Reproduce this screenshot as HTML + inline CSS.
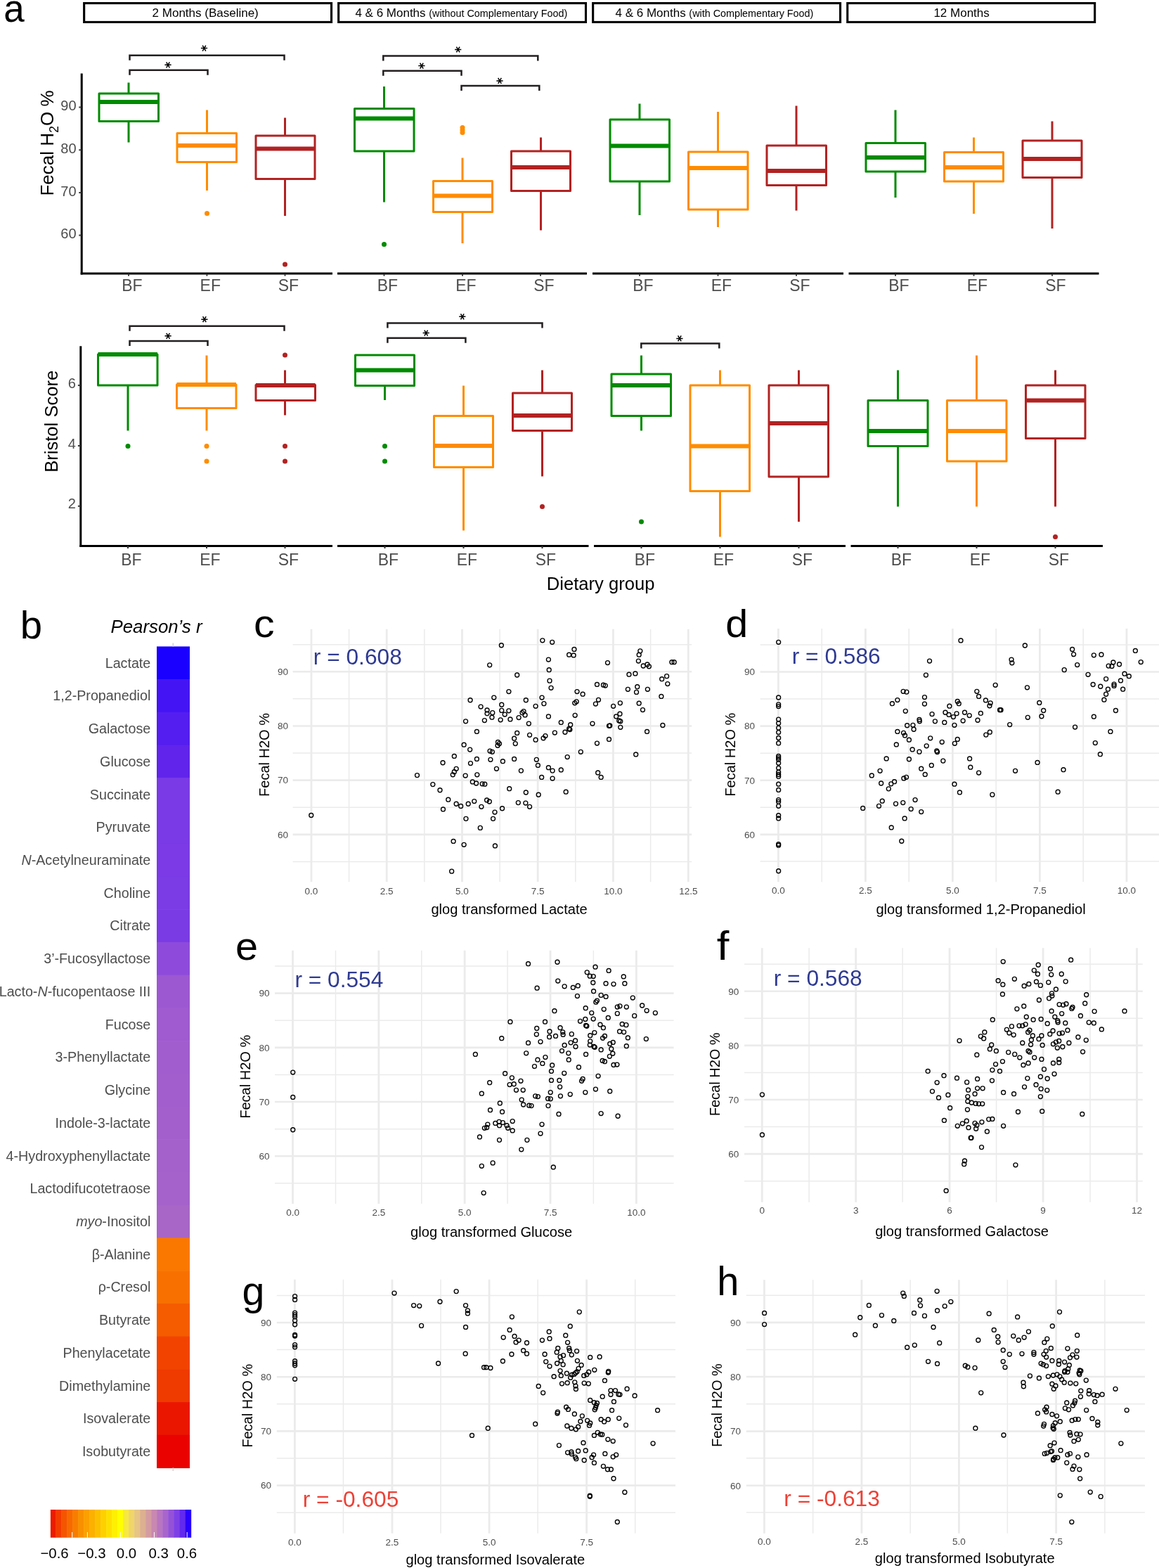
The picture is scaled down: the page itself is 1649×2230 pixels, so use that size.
<!DOCTYPE html>
<html><head><meta charset="utf-8"><title>Figure</title>
<style>
html,body{margin:0;padding:0;background:#fff;}
svg{display:block;}
text{font-family:"Liberation Sans", Arial, Helvetica, sans-serif;}
</style></head>
<body>
<svg width="1649" height="2230" viewBox="0 0 1649 2230">
<rect width="1649" height="2230" fill="#fff"/>
<rect x="119.65" y="4.55" width="351.9" height="26.9" fill="#fff" stroke="#000" stroke-width="3.1"/>
<text x="292.2" y="24.1" font-size="17" fill="#000" text-anchor="middle">2 Months (Baseline)</text>
<rect x="481.65" y="4.55" width="351.85" height="26.9" fill="#fff" stroke="#000" stroke-width="3.1"/>
<text x="656.3" y="24.1" font-size="17" text-anchor="middle">4 &amp; 6 Months <tspan font-size="14.35">(without Complementary Food)</tspan></text>
<rect x="843.65" y="4.55" width="351.9" height="26.9" fill="#fff" stroke="#000" stroke-width="3.1"/>
<text x="1016.4" y="24.1" font-size="17" text-anchor="middle">4 &amp; 6 Months <tspan font-size="14.35">(with Complementary Food)</tspan></text>
<rect x="1205.75" y="4.55" width="351.9" height="26.9" fill="#fff" stroke="#000" stroke-width="3.1"/>
<text x="1368.1" y="24.1" font-size="17" fill="#000" text-anchor="middle">12 Months</text>
<line x1="116.2" y1="104.5" x2="116.2" y2="390.4" stroke="#000" stroke-width="3"/>
<line x1="112.3" y1="152.5" x2="116.2" y2="152.5" stroke="#333" stroke-width="2"/>
<text x="108.6" y="157.1" font-size="20" fill="#4d4d4d" text-anchor="end">90</text>
<line x1="112.3" y1="213.3" x2="116.2" y2="213.3" stroke="#333" stroke-width="2"/>
<text x="108.6" y="217.9" font-size="20" fill="#4d4d4d" text-anchor="end">80</text>
<line x1="112.3" y1="274" x2="116.2" y2="274" stroke="#333" stroke-width="2"/>
<text x="108.6" y="278.6" font-size="20" fill="#4d4d4d" text-anchor="end">70</text>
<line x1="112.3" y1="334.6" x2="116.2" y2="334.6" stroke="#333" stroke-width="2"/>
<text x="108.6" y="339.2" font-size="20" fill="#4d4d4d" text-anchor="end">60</text>
<text transform="translate(76.3 203.5) rotate(-90)" font-size="26" text-anchor="middle">Fecal H<tspan font-size="18" dy="7">2</tspan><tspan dy="-7">O %</tspan></text>
<line x1="114.7" y1="389" x2="473" y2="389" stroke="#000" stroke-width="2.9"/>
<line x1="183" y1="389" x2="183" y2="392.5" stroke="#333" stroke-width="2"/>
<text x="187.9" y="414" font-size="23" fill="#4d4d4d" text-anchor="middle">BF</text>
<line x1="294.4" y1="389" x2="294.4" y2="392.5" stroke="#333" stroke-width="2"/>
<text x="299.3" y="414" font-size="23" fill="#4d4d4d" text-anchor="middle">EF</text>
<line x1="405.5" y1="389" x2="405.5" y2="392.5" stroke="#333" stroke-width="2"/>
<text x="410.4" y="414" font-size="23" fill="#4d4d4d" text-anchor="middle">SF</text>
<line x1="480" y1="389" x2="835" y2="389" stroke="#000" stroke-width="2.9"/>
<line x1="546.5" y1="389" x2="546.5" y2="392.5" stroke="#333" stroke-width="2"/>
<text x="551.4" y="414" font-size="23" fill="#4d4d4d" text-anchor="middle">BF</text>
<line x1="658" y1="389" x2="658" y2="392.5" stroke="#333" stroke-width="2"/>
<text x="662.9" y="414" font-size="23" fill="#4d4d4d" text-anchor="middle">EF</text>
<line x1="769" y1="389" x2="769" y2="392.5" stroke="#333" stroke-width="2"/>
<text x="773.9" y="414" font-size="23" fill="#4d4d4d" text-anchor="middle">SF</text>
<line x1="843" y1="389" x2="1200" y2="389" stroke="#000" stroke-width="2.9"/>
<line x1="910" y1="389" x2="910" y2="392.5" stroke="#333" stroke-width="2"/>
<text x="914.9" y="414" font-size="23" fill="#4d4d4d" text-anchor="middle">BF</text>
<line x1="1021.5" y1="389" x2="1021.5" y2="392.5" stroke="#333" stroke-width="2"/>
<text x="1026.4" y="414" font-size="23" fill="#4d4d4d" text-anchor="middle">EF</text>
<line x1="1133" y1="389" x2="1133" y2="392.5" stroke="#333" stroke-width="2"/>
<text x="1137.9" y="414" font-size="23" fill="#4d4d4d" text-anchor="middle">SF</text>
<line x1="1207.5" y1="389" x2="1563.5" y2="389" stroke="#000" stroke-width="2.9"/>
<line x1="1274" y1="389" x2="1274" y2="392.5" stroke="#333" stroke-width="2"/>
<text x="1278.9" y="414" font-size="23" fill="#4d4d4d" text-anchor="middle">BF</text>
<line x1="1385.5" y1="389" x2="1385.5" y2="392.5" stroke="#333" stroke-width="2"/>
<text x="1390.4" y="414" font-size="23" fill="#4d4d4d" text-anchor="middle">EF</text>
<line x1="1497" y1="389" x2="1497" y2="392.5" stroke="#333" stroke-width="2"/>
<text x="1501.9" y="414" font-size="23" fill="#4d4d4d" text-anchor="middle">SF</text>
<line x1="183" y1="117.5" x2="183" y2="133" stroke="#008b00" stroke-width="3"/>
<line x1="183" y1="172.5" x2="183" y2="202.5" stroke="#008b00" stroke-width="3"/>
<rect x="141" y="133" width="84.5" height="39.5" fill="#fff" stroke="#008b00" stroke-width="3" stroke-linejoin="round"/>
<line x1="141" y1="145" x2="225.5" y2="145" stroke="#008b00" stroke-width="6"/>
<line x1="294.5" y1="156.5" x2="294.5" y2="189.5" stroke="#ff8c00" stroke-width="3"/>
<line x1="294.5" y1="230.5" x2="294.5" y2="271" stroke="#ff8c00" stroke-width="3"/>
<rect x="252" y="189.5" width="84.5" height="41" fill="#fff" stroke="#ff8c00" stroke-width="3" stroke-linejoin="round"/>
<line x1="252" y1="207" x2="336.5" y2="207" stroke="#ff8c00" stroke-width="6"/>
<circle cx="294.5" cy="303.5" r="3.5" fill="#ff8c00"/>
<line x1="405.5" y1="167.5" x2="405.5" y2="193" stroke="#b22222" stroke-width="3"/>
<line x1="405.5" y1="254.5" x2="405.5" y2="307" stroke="#b22222" stroke-width="3"/>
<rect x="364" y="193" width="84" height="61.5" fill="#fff" stroke="#b22222" stroke-width="3" stroke-linejoin="round"/>
<line x1="364" y1="211.5" x2="448" y2="211.5" stroke="#b22222" stroke-width="6"/>
<circle cx="405.5" cy="376" r="3.5" fill="#b22222"/>
<line x1="546.5" y1="123" x2="546.5" y2="154.5" stroke="#008b00" stroke-width="3"/>
<line x1="546.5" y1="215" x2="546.5" y2="287.5" stroke="#008b00" stroke-width="3"/>
<rect x="504.5" y="154.5" width="84.5" height="60.5" fill="#fff" stroke="#008b00" stroke-width="3" stroke-linejoin="round"/>
<line x1="504.5" y1="168.5" x2="589" y2="168.5" stroke="#008b00" stroke-width="6"/>
<circle cx="546.5" cy="347.5" r="3.5" fill="#008b00"/>
<line x1="658" y1="224.5" x2="658" y2="257.5" stroke="#ff8c00" stroke-width="3"/>
<line x1="658" y1="301.5" x2="658" y2="346" stroke="#ff8c00" stroke-width="3"/>
<rect x="616.5" y="257.5" width="84" height="44" fill="#fff" stroke="#ff8c00" stroke-width="3" stroke-linejoin="round"/>
<line x1="616.5" y1="278.5" x2="700.5" y2="278.5" stroke="#ff8c00" stroke-width="6"/>
<circle cx="658" cy="181.5" r="3.5" fill="#ff8c00"/>
<circle cx="658" cy="185" r="3.5" fill="#ff8c00"/>
<circle cx="658" cy="188.5" r="3.5" fill="#ff8c00"/>
<line x1="769.5" y1="195.5" x2="769.5" y2="215" stroke="#b22222" stroke-width="3"/>
<line x1="769.5" y1="271.5" x2="769.5" y2="327.5" stroke="#b22222" stroke-width="3"/>
<rect x="727.5" y="215" width="84" height="56.5" fill="#fff" stroke="#b22222" stroke-width="3" stroke-linejoin="round"/>
<line x1="727.5" y1="238" x2="811.5" y2="238" stroke="#b22222" stroke-width="6"/>
<line x1="910" y1="147.5" x2="910" y2="170" stroke="#008b00" stroke-width="3"/>
<line x1="910" y1="258" x2="910" y2="306" stroke="#008b00" stroke-width="3"/>
<rect x="868" y="170" width="84.5" height="88" fill="#fff" stroke="#008b00" stroke-width="3" stroke-linejoin="round"/>
<line x1="868" y1="207.5" x2="952.5" y2="207.5" stroke="#008b00" stroke-width="6"/>
<line x1="1021.5" y1="159" x2="1021.5" y2="216" stroke="#ff8c00" stroke-width="3"/>
<line x1="1021.5" y1="298" x2="1021.5" y2="323" stroke="#ff8c00" stroke-width="3"/>
<rect x="979.5" y="216" width="84.5" height="82" fill="#fff" stroke="#ff8c00" stroke-width="3" stroke-linejoin="round"/>
<line x1="979.5" y1="239" x2="1064" y2="239" stroke="#ff8c00" stroke-width="6"/>
<line x1="1133" y1="150.5" x2="1133" y2="207" stroke="#b22222" stroke-width="3"/>
<line x1="1133" y1="263.5" x2="1133" y2="299.5" stroke="#b22222" stroke-width="3"/>
<rect x="1091" y="207" width="84.5" height="56.5" fill="#fff" stroke="#b22222" stroke-width="3" stroke-linejoin="round"/>
<line x1="1091" y1="243" x2="1175.5" y2="243" stroke="#b22222" stroke-width="6"/>
<line x1="1274" y1="156.5" x2="1274" y2="203.5" stroke="#008b00" stroke-width="3"/>
<line x1="1274" y1="244" x2="1274" y2="281" stroke="#008b00" stroke-width="3"/>
<rect x="1232" y="203.5" width="84.5" height="40.5" fill="#fff" stroke="#008b00" stroke-width="3" stroke-linejoin="round"/>
<line x1="1232" y1="224" x2="1316.5" y2="224" stroke="#008b00" stroke-width="6"/>
<line x1="1385.5" y1="195.5" x2="1385.5" y2="216.5" stroke="#ff8c00" stroke-width="3"/>
<line x1="1385.5" y1="258" x2="1385.5" y2="304" stroke="#ff8c00" stroke-width="3"/>
<rect x="1343.5" y="216.5" width="84" height="41.5" fill="#fff" stroke="#ff8c00" stroke-width="3" stroke-linejoin="round"/>
<line x1="1343.5" y1="238" x2="1427.5" y2="238" stroke="#ff8c00" stroke-width="6"/>
<line x1="1497" y1="172.5" x2="1497" y2="200" stroke="#b22222" stroke-width="3"/>
<line x1="1497" y1="252.5" x2="1497" y2="325" stroke="#b22222" stroke-width="3"/>
<rect x="1455" y="200" width="84" height="52.5" fill="#fff" stroke="#b22222" stroke-width="3" stroke-linejoin="round"/>
<line x1="1455" y1="226" x2="1539" y2="226" stroke="#b22222" stroke-width="6"/>
<path d="M184.5 85.8V78.8H404.5V85.8" fill="none" stroke="#231f20" stroke-width="2.5"/>
<path d="M285.9 68.6L295.1 68.6M288.2 64.62L292.8 72.58M292.8 64.62L288.2 72.58" stroke="#000" stroke-width="1.5" fill="none"/>
<path d="M184.5 106.7V99.7H295.5V106.7" fill="none" stroke="#231f20" stroke-width="2.5"/>
<path d="M234.4 92.3L243.6 92.3M236.7 88.32L241.3 96.28M241.3 88.32L236.7 96.28" stroke="#000" stroke-width="1.5" fill="none"/>
<path d="M545.3 86.4V79.4H765.3V86.4" fill="none" stroke="#231f20" stroke-width="2.5"/>
<path d="M647.1 70.5L656.3 70.5M649.4 66.52L654 74.48M654 66.52L649.4 74.48" stroke="#000" stroke-width="1.5" fill="none"/>
<path d="M545.3 107.7V100.7H656.5V107.7" fill="none" stroke="#231f20" stroke-width="2.5"/>
<path d="M595.3 93.6L604.5 93.6M597.6 89.62L602.2 97.58M602.2 89.62L597.6 97.58" stroke="#000" stroke-width="1.5" fill="none"/>
<path d="M656.5 129V122H767.3V129" fill="none" stroke="#231f20" stroke-width="2.5"/>
<path d="M706.4 114.9L715.6 114.9M708.7 110.92L713.3 118.88M713.3 110.92L708.7 118.88" stroke="#000" stroke-width="1.5" fill="none"/>
<line x1="114.8" y1="492.2" x2="114.8" y2="777.9" stroke="#000" stroke-width="3"/>
<line x1="110.9" y1="548.1" x2="114.8" y2="548.1" stroke="#333" stroke-width="2"/>
<text x="107.8" y="551.7" font-size="20" fill="#4d4d4d" text-anchor="end">6</text>
<line x1="110.9" y1="634" x2="114.8" y2="634" stroke="#333" stroke-width="2"/>
<text x="107.8" y="637.6" font-size="20" fill="#4d4d4d" text-anchor="end">4</text>
<line x1="110.9" y1="719.8" x2="114.8" y2="719.8" stroke="#333" stroke-width="2"/>
<text x="107.8" y="723.4" font-size="20" fill="#4d4d4d" text-anchor="end">2</text>
<text x="0" y="0" font-size="25.6" fill="#000" text-anchor="middle" transform="translate(81.5 599.3) rotate(-90)">Bristol Score</text>
<line x1="113.3" y1="776.5" x2="473" y2="776.5" stroke="#000" stroke-width="2.9"/>
<line x1="182" y1="776.5" x2="182" y2="780" stroke="#333" stroke-width="2"/>
<text x="186.9" y="804" font-size="23" fill="#4d4d4d" text-anchor="middle">BF</text>
<line x1="294" y1="776.5" x2="294" y2="780" stroke="#333" stroke-width="2"/>
<text x="298.9" y="804" font-size="23" fill="#4d4d4d" text-anchor="middle">EF</text>
<line x1="405.5" y1="776.5" x2="405.5" y2="780" stroke="#333" stroke-width="2"/>
<text x="410.4" y="804" font-size="23" fill="#4d4d4d" text-anchor="middle">SF</text>
<line x1="480" y1="776.5" x2="837.5" y2="776.5" stroke="#000" stroke-width="2.9"/>
<line x1="547.5" y1="776.5" x2="547.5" y2="780" stroke="#333" stroke-width="2"/>
<text x="552.4" y="804" font-size="23" fill="#4d4d4d" text-anchor="middle">BF</text>
<line x1="659.5" y1="776.5" x2="659.5" y2="780" stroke="#333" stroke-width="2"/>
<text x="664.4" y="804" font-size="23" fill="#4d4d4d" text-anchor="middle">EF</text>
<line x1="771.5" y1="776.5" x2="771.5" y2="780" stroke="#333" stroke-width="2"/>
<text x="776.4" y="804" font-size="23" fill="#4d4d4d" text-anchor="middle">SF</text>
<line x1="845" y1="776.5" x2="1203" y2="776.5" stroke="#000" stroke-width="2.9"/>
<line x1="912.5" y1="776.5" x2="912.5" y2="780" stroke="#333" stroke-width="2"/>
<text x="917.4" y="804" font-size="23" fill="#4d4d4d" text-anchor="middle">BF</text>
<line x1="1024.5" y1="776.5" x2="1024.5" y2="780" stroke="#333" stroke-width="2"/>
<text x="1029.4" y="804" font-size="23" fill="#4d4d4d" text-anchor="middle">EF</text>
<line x1="1136.5" y1="776.5" x2="1136.5" y2="780" stroke="#333" stroke-width="2"/>
<text x="1141.4" y="804" font-size="23" fill="#4d4d4d" text-anchor="middle">SF</text>
<line x1="1210.5" y1="776.5" x2="1569" y2="776.5" stroke="#000" stroke-width="2.9"/>
<line x1="1277.5" y1="776.5" x2="1277.5" y2="780" stroke="#333" stroke-width="2"/>
<text x="1282.4" y="804" font-size="23" fill="#4d4d4d" text-anchor="middle">BF</text>
<line x1="1389.5" y1="776.5" x2="1389.5" y2="780" stroke="#333" stroke-width="2"/>
<text x="1394.4" y="804" font-size="23" fill="#4d4d4d" text-anchor="middle">EF</text>
<line x1="1501.5" y1="776.5" x2="1501.5" y2="780" stroke="#333" stroke-width="2"/>
<text x="1506.4" y="804" font-size="23" fill="#4d4d4d" text-anchor="middle">SF</text>
<text x="854.6" y="839.1" font-size="25.6" fill="#000" text-anchor="middle">Dietary group</text>
<line x1="182" y1="504" x2="182" y2="504" stroke="#008b00" stroke-width="3"/>
<line x1="182" y1="548" x2="182" y2="612.5" stroke="#008b00" stroke-width="3"/>
<rect x="139.5" y="504" width="84.5" height="44" fill="#fff" stroke="#008b00" stroke-width="3" stroke-linejoin="round"/>
<line x1="139.5" y1="504" x2="224" y2="504" stroke="#008b00" stroke-width="6"/>
<circle cx="182" cy="634.5" r="3.5" fill="#008b00"/>
<line x1="294" y1="505.5" x2="294" y2="547" stroke="#ff8c00" stroke-width="3"/>
<line x1="294" y1="580.5" x2="294" y2="612.5" stroke="#ff8c00" stroke-width="3"/>
<rect x="251.5" y="547" width="84.5" height="33.5" fill="#fff" stroke="#ff8c00" stroke-width="3" stroke-linejoin="round"/>
<line x1="251.5" y1="547" x2="336" y2="547" stroke="#ff8c00" stroke-width="6"/>
<circle cx="294" cy="634.5" r="3.5" fill="#ff8c00"/>
<circle cx="294" cy="656" r="3.5" fill="#ff8c00"/>
<line x1="405.5" y1="526.5" x2="405.5" y2="547.5" stroke="#b22222" stroke-width="3"/>
<line x1="405.5" y1="569.5" x2="405.5" y2="590.5" stroke="#b22222" stroke-width="3"/>
<rect x="364" y="547.5" width="84.5" height="22" fill="#fff" stroke="#b22222" stroke-width="3" stroke-linejoin="round"/>
<line x1="364" y1="548" x2="448.5" y2="548" stroke="#b22222" stroke-width="6"/>
<circle cx="405.5" cy="505" r="3.5" fill="#b22222"/>
<circle cx="405.5" cy="634.5" r="3.5" fill="#b22222"/>
<circle cx="405.5" cy="656" r="3.5" fill="#b22222"/>
<line x1="547.5" y1="505" x2="547.5" y2="505" stroke="#008b00" stroke-width="3"/>
<line x1="547.5" y1="548.5" x2="547.5" y2="569" stroke="#008b00" stroke-width="3"/>
<rect x="505.5" y="505" width="84" height="43.5" fill="#fff" stroke="#008b00" stroke-width="3" stroke-linejoin="round"/>
<line x1="505.5" y1="526.5" x2="589.5" y2="526.5" stroke="#008b00" stroke-width="6"/>
<circle cx="547.5" cy="634.5" r="3.5" fill="#008b00"/>
<circle cx="547.5" cy="656" r="3.5" fill="#008b00"/>
<line x1="659.5" y1="548.5" x2="659.5" y2="591.5" stroke="#ff8c00" stroke-width="3"/>
<line x1="659.5" y1="664.5" x2="659.5" y2="754.5" stroke="#ff8c00" stroke-width="3"/>
<rect x="617.5" y="591.5" width="84" height="73" fill="#fff" stroke="#ff8c00" stroke-width="3" stroke-linejoin="round"/>
<line x1="617.5" y1="634" x2="701.5" y2="634" stroke="#ff8c00" stroke-width="6"/>
<line x1="771.5" y1="526.5" x2="771.5" y2="559" stroke="#b22222" stroke-width="3"/>
<line x1="771.5" y1="612.5" x2="771.5" y2="677.5" stroke="#b22222" stroke-width="3"/>
<rect x="729.5" y="559" width="84" height="53.5" fill="#fff" stroke="#b22222" stroke-width="3" stroke-linejoin="round"/>
<line x1="729.5" y1="591" x2="813.5" y2="591" stroke="#b22222" stroke-width="6"/>
<circle cx="771.5" cy="720.5" r="3.5" fill="#b22222"/>
<line x1="912.5" y1="505.5" x2="912.5" y2="532" stroke="#008b00" stroke-width="3"/>
<line x1="912.5" y1="591.5" x2="912.5" y2="612.5" stroke="#008b00" stroke-width="3"/>
<rect x="870" y="532" width="84.5" height="59.5" fill="#fff" stroke="#008b00" stroke-width="3" stroke-linejoin="round"/>
<line x1="870" y1="548" x2="954.5" y2="548" stroke="#008b00" stroke-width="6"/>
<circle cx="912.5" cy="742" r="3.5" fill="#008b00"/>
<line x1="1024.5" y1="526.5" x2="1024.5" y2="548" stroke="#ff8c00" stroke-width="3"/>
<line x1="1024.5" y1="698.5" x2="1024.5" y2="763.5" stroke="#ff8c00" stroke-width="3"/>
<rect x="982" y="548" width="84.5" height="150.5" fill="#fff" stroke="#ff8c00" stroke-width="3" stroke-linejoin="round"/>
<line x1="982" y1="634.5" x2="1066.5" y2="634.5" stroke="#ff8c00" stroke-width="6"/>
<line x1="1136.5" y1="526.5" x2="1136.5" y2="548" stroke="#b22222" stroke-width="3"/>
<line x1="1136.5" y1="678" x2="1136.5" y2="742" stroke="#b22222" stroke-width="3"/>
<rect x="1094" y="548" width="84.5" height="130" fill="#fff" stroke="#b22222" stroke-width="3" stroke-linejoin="round"/>
<line x1="1094" y1="602" x2="1178.5" y2="602" stroke="#b22222" stroke-width="6"/>
<line x1="1277.5" y1="526.5" x2="1277.5" y2="569.5" stroke="#008b00" stroke-width="3"/>
<line x1="1277.5" y1="634.5" x2="1277.5" y2="720.5" stroke="#008b00" stroke-width="3"/>
<rect x="1235" y="569.5" width="85" height="65" fill="#fff" stroke="#008b00" stroke-width="3" stroke-linejoin="round"/>
<line x1="1235" y1="613" x2="1320" y2="613" stroke="#008b00" stroke-width="6"/>
<line x1="1389.5" y1="505.5" x2="1389.5" y2="569.5" stroke="#ff8c00" stroke-width="3"/>
<line x1="1389.5" y1="656" x2="1389.5" y2="720.5" stroke="#ff8c00" stroke-width="3"/>
<rect x="1347.5" y="569.5" width="84.5" height="86.5" fill="#fff" stroke="#ff8c00" stroke-width="3" stroke-linejoin="round"/>
<line x1="1347.5" y1="613" x2="1432" y2="613" stroke="#ff8c00" stroke-width="6"/>
<line x1="1501.5" y1="526.5" x2="1501.5" y2="548" stroke="#b22222" stroke-width="3"/>
<line x1="1501.5" y1="623.5" x2="1501.5" y2="720.5" stroke="#b22222" stroke-width="3"/>
<rect x="1459.5" y="548" width="84.5" height="75.5" fill="#fff" stroke="#b22222" stroke-width="3" stroke-linejoin="round"/>
<line x1="1459.5" y1="569.5" x2="1544" y2="569.5" stroke="#b22222" stroke-width="6"/>
<circle cx="1501.5" cy="763.5" r="3.5" fill="#b22222"/>
<path d="M184.5 470.7V463.7H404.5V470.7" fill="none" stroke="#231f20" stroke-width="2.5"/>
<path d="M286.3 454.2L295.5 454.2M288.6 450.22L293.2 458.18M293.2 450.22L288.6 458.18" stroke="#000" stroke-width="1.5" fill="none"/>
<path d="M184.5 491.9V484.9H295.5V491.9" fill="none" stroke="#231f20" stroke-width="2.5"/>
<path d="M234.5 477.8L243.7 477.8M236.8 473.82L241.4 481.78M241.4 473.82L236.8 481.78" stroke="#000" stroke-width="1.5" fill="none"/>
<path d="M551.4 466.4V459.4H771.5V466.4" fill="none" stroke="#231f20" stroke-width="2.5"/>
<path d="M653.2 450.3L662.4 450.3M655.5 446.32L660.1 454.28M660.1 446.32L655.5 454.28" stroke="#000" stroke-width="1.5" fill="none"/>
<path d="M551.4 487.7V480.7H662.4V487.7" fill="none" stroke="#231f20" stroke-width="2.5"/>
<path d="M601.6 473.6L610.8 473.6M603.9 469.62L608.5 477.58M608.5 469.62L603.9 477.58" stroke="#000" stroke-width="1.5" fill="none"/>
<path d="M912.3 495.5V488.5H1023.3V495.5" fill="none" stroke="#231f20" stroke-width="2.5"/>
<path d="M962.3 481.4L971.5 481.4M964.6 477.42L969.2 485.38M969.2 477.42L964.6 485.38" stroke="#000" stroke-width="1.5" fill="none"/>
<text transform="translate(5.25 31.25) scale(0.9450 1)" font-size="56.03">a</text>
<rect x="223" y="919.4" width="47" height="47.32" fill="#1a00ff"/>
<text x="214.3" y="949.66" font-size="19.7" fill="#4d4d4d" text-anchor="end">Lactate</text>
<rect x="223" y="966.12" width="47" height="47.32" fill="#4514f4"/>
<text x="214.3" y="996.39" font-size="19.7" fill="#4d4d4d" text-anchor="end">1,2-Propanediol</text>
<rect x="223" y="1012.85" width="47" height="47.32" fill="#541ef0"/>
<text x="214.3" y="1043.11" font-size="19.7" fill="#4d4d4d" text-anchor="end">Galactose</text>
<rect x="223" y="1059.57" width="47" height="47.32" fill="#6124eb"/>
<text x="214.3" y="1089.83" font-size="19.7" fill="#4d4d4d" text-anchor="end">Glucose</text>
<rect x="223" y="1106.3" width="47" height="47.32" fill="#7a3ae6"/>
<text x="214.3" y="1136.56" font-size="19.7" fill="#4d4d4d" text-anchor="end">Succinate</text>
<rect x="223" y="1153.02" width="47" height="47.32" fill="#7a3ae6"/>
<text x="214.3" y="1183.28" font-size="19.7" fill="#4d4d4d" text-anchor="end">Pyruvate</text>
<rect x="223" y="1199.74" width="47" height="47.32" fill="#7b3ae6"/>
<text x="214.3" y="1230.01" font-size="19.7" fill="#4d4d4d" text-anchor="end"><tspan font-style="italic">N</tspan>-Acetylneuraminate</text>
<rect x="223" y="1246.47" width="47" height="47.32" fill="#7b3be5"/>
<text x="214.3" y="1276.73" font-size="19.7" fill="#4d4d4d" text-anchor="end">Choline</text>
<rect x="223" y="1293.19" width="47" height="47.32" fill="#7b3be4"/>
<text x="214.3" y="1323.45" font-size="19.7" fill="#4d4d4d" text-anchor="end">Citrate</text>
<rect x="223" y="1339.92" width="47" height="47.32" fill="#8e4bdb"/>
<text x="214.3" y="1370.18" font-size="19.7" fill="#4d4d4d" text-anchor="end">3’-Fucosyllactose</text>
<rect x="223" y="1386.64" width="47" height="47.32" fill="#9c58d1"/>
<text x="214.3" y="1416.9" font-size="19.7" fill="#4d4d4d" text-anchor="end">Lacto-<tspan font-style="italic">N</tspan>-fucopentaose III</text>
<rect x="223" y="1433.36" width="47" height="47.32" fill="#9f5bcf"/>
<text x="214.3" y="1463.63" font-size="19.7" fill="#4d4d4d" text-anchor="end">Fucose</text>
<rect x="223" y="1480.09" width="47" height="47.32" fill="#a15dce"/>
<text x="214.3" y="1510.35" font-size="19.7" fill="#4d4d4d" text-anchor="end">3-Phenyllactate</text>
<rect x="223" y="1526.81" width="47" height="47.32" fill="#a25ecd"/>
<text x="214.3" y="1557.07" font-size="19.7" fill="#4d4d4d" text-anchor="end">Glycine</text>
<rect x="223" y="1573.54" width="47" height="47.32" fill="#a35fcc"/>
<text x="214.3" y="1603.8" font-size="19.7" fill="#4d4d4d" text-anchor="end">Indole-3-lactate</text>
<rect x="223" y="1620.26" width="47" height="47.32" fill="#a461cb"/>
<text x="214.3" y="1650.52" font-size="19.7" fill="#4d4d4d" text-anchor="end">4-Hydroxyphenyllactate</text>
<rect x="223" y="1666.98" width="47" height="47.32" fill="#a562ca"/>
<text x="214.3" y="1697.25" font-size="19.7" fill="#4d4d4d" text-anchor="end">Lactodifucotetraose</text>
<rect x="223" y="1713.71" width="47" height="47.32" fill="#a866c6"/>
<text x="214.3" y="1743.97" font-size="19.7" fill="#4d4d4d" text-anchor="end"><tspan font-style="italic">myo</tspan>-Inositol</text>
<rect x="223" y="1760.43" width="47" height="47.32" fill="#fa7800"/>
<text x="214.3" y="1790.69" font-size="19.7" fill="#4d4d4d" text-anchor="end">β-Alanine</text>
<rect x="223" y="1807.16" width="47" height="47.32" fill="#f87100"/>
<text x="214.3" y="1837.42" font-size="19.7" fill="#4d4d4d" text-anchor="end">ρ-Cresol</text>
<rect x="223" y="1853.88" width="47" height="47.32" fill="#f55c00"/>
<text x="214.3" y="1884.14" font-size="19.7" fill="#4d4d4d" text-anchor="end">Butyrate</text>
<rect x="223" y="1900.6" width="47" height="47.32" fill="#f24400"/>
<text x="214.3" y="1930.87" font-size="19.7" fill="#4d4d4d" text-anchor="end">Phenylacetate</text>
<rect x="223" y="1947.33" width="47" height="47.32" fill="#ef3a00"/>
<text x="214.3" y="1977.59" font-size="19.7" fill="#4d4d4d" text-anchor="end">Dimethylamine</text>
<rect x="223" y="1994.05" width="47" height="47.32" fill="#eb1600"/>
<text x="214.3" y="2024.31" font-size="19.7" fill="#4d4d4d" text-anchor="end">Isovalerate</text>
<rect x="223" y="2040.78" width="47" height="47.32" fill="#e90200"/>
<text x="214.3" y="2071.04" font-size="19.7" fill="#4d4d4d" text-anchor="end">Isobutyrate</text>
<text x="157.5" y="899.8" font-size="25.8" fill="#000" text-anchor="start" font-style="italic">Pearson’s r</text>
<text transform="translate(28.87 908.15) scale(1.0004 1)" font-size="56.24">b</text>
<line x1="246.3" y1="914.5" x2="246.3" y2="919.4" stroke="#d9d9d9" stroke-width="2"/>
<line x1="246.3" y1="2087.5" x2="246.3" y2="2092" stroke="#d9d9d9" stroke-width="2"/>
<rect x="71.84" y="2147" width="7.6" height="39.8" fill="#ee1a00"/>
<rect x="79.05" y="2147" width="8.4" height="39.8" fill="#f23c00"/>
<rect x="87.05" y="2147" width="8.4" height="39.8" fill="#f45500"/>
<rect x="95.06" y="2147" width="8.4" height="39.8" fill="#f66a00"/>
<rect x="103.06" y="2147" width="8.4" height="39.8" fill="#f77d00"/>
<rect x="111.07" y="2147" width="8.4" height="39.8" fill="#f99000"/>
<rect x="119.07" y="2147" width="8.4" height="39.8" fill="#fba000"/>
<rect x="127.08" y="2147" width="8.4" height="39.8" fill="#fcb000"/>
<rect x="135.08" y="2147" width="8.4" height="39.8" fill="#fdc000"/>
<rect x="143.09" y="2147" width="8.4" height="39.8" fill="#fed000"/>
<rect x="151.09" y="2147" width="8.4" height="39.8" fill="#fee000"/>
<rect x="159.1" y="2147" width="8.4" height="39.8" fill="#ffef00"/>
<rect x="167.1" y="2147" width="8.4" height="39.8" fill="#ffff00"/>
<rect x="175.11" y="2147" width="8.4" height="39.8" fill="#f7e840"/>
<rect x="183.11" y="2147" width="8.4" height="39.8" fill="#efd56a"/>
<rect x="191.11" y="2147" width="8.4" height="39.8" fill="#e6c585"/>
<rect x="199.12" y="2147" width="8.4" height="39.8" fill="#dcb090"/>
<rect x="207.12" y="2147" width="8.4" height="39.8" fill="#d49ca0"/>
<rect x="215.13" y="2147" width="8.4" height="39.8" fill="#c888b0"/>
<rect x="223.13" y="2147" width="8.4" height="39.8" fill="#b875c0"/>
<rect x="231.14" y="2147" width="8.4" height="39.8" fill="#a865cc"/>
<rect x="239.14" y="2147" width="8.4" height="39.8" fill="#9452d8"/>
<rect x="247.15" y="2147" width="8.4" height="39.8" fill="#7e40e4"/>
<rect x="255.15" y="2147" width="9.01" height="39.8" fill="#6229ee"/>
<rect x="263.76" y="2147" width="8.4" height="39.8" fill="#2a00ff"/>
<line x1="102.6" y1="2179" x2="102.6" y2="2186.8" stroke="#fff" stroke-width="1"/>
<line x1="124.4" y1="2179" x2="124.4" y2="2186.8" stroke="#fff" stroke-width="1"/>
<line x1="171.4" y1="2179" x2="171.4" y2="2186.8" stroke="#fff" stroke-width="1"/>
<line x1="219.4" y1="2179" x2="219.4" y2="2186.8" stroke="#fff" stroke-width="1"/>
<line x1="266.2" y1="2179" x2="266.2" y2="2186.8" stroke="#fff" stroke-width="1"/>
<text x="77.6" y="2215.6" font-size="20.4" fill="#000" text-anchor="middle">−0.6</text>
<text x="130.4" y="2215.6" font-size="20.4" fill="#000" text-anchor="middle">−0.3</text>
<text x="180" y="2215.6" font-size="20.4" fill="#000" text-anchor="middle">0.0</text>
<text x="225.6" y="2215.6" font-size="20.4" fill="#000" text-anchor="middle">0.3</text>
<text x="266" y="2215.6" font-size="20.4" fill="#000" text-anchor="middle">0.6</text>
<line x1="496.59" y1="894.69" x2="496.59" y2="1254.27" stroke="#ebebeb" stroke-width="1.5"/>
<line x1="603.85" y1="894.69" x2="603.85" y2="1254.27" stroke="#ebebeb" stroke-width="1.5"/>
<line x1="711.11" y1="894.69" x2="711.11" y2="1254.27" stroke="#ebebeb" stroke-width="1.5"/>
<line x1="818.79" y1="894.69" x2="818.79" y2="1254.27" stroke="#ebebeb" stroke-width="1.5"/>
<line x1="925.64" y1="894.69" x2="925.64" y2="1254.27" stroke="#ebebeb" stroke-width="1.5"/>
<line x1="416.54" y1="916.63" x2="984.15" y2="916.63" stroke="#ebebeb" stroke-width="1.5"/>
<line x1="416.54" y1="993.83" x2="984.15" y2="993.83" stroke="#ebebeb" stroke-width="1.5"/>
<line x1="416.54" y1="1071.03" x2="984.15" y2="1071.03" stroke="#ebebeb" stroke-width="1.5"/>
<line x1="416.54" y1="1148.23" x2="984.15" y2="1148.23" stroke="#ebebeb" stroke-width="1.5"/>
<line x1="416.54" y1="1225.43" x2="984.15" y2="1225.43" stroke="#ebebeb" stroke-width="1.5"/>
<line x1="442.95" y1="894.69" x2="442.95" y2="1254.27" stroke="#ebebeb" stroke-width="2.8"/>
<line x1="550.22" y1="894.69" x2="550.22" y2="1254.27" stroke="#ebebeb" stroke-width="2.8"/>
<line x1="657.48" y1="894.69" x2="657.48" y2="1254.27" stroke="#ebebeb" stroke-width="2.8"/>
<line x1="765.15" y1="894.69" x2="765.15" y2="1254.27" stroke="#ebebeb" stroke-width="2.8"/>
<line x1="872.42" y1="894.69" x2="872.42" y2="1254.27" stroke="#ebebeb" stroke-width="2.8"/>
<line x1="979.28" y1="894.69" x2="979.28" y2="1254.27" stroke="#ebebeb" stroke-width="2.8"/>
<line x1="416.54" y1="955.23" x2="984.15" y2="955.23" stroke="#ebebeb" stroke-width="2.6"/>
<line x1="416.54" y1="1032.43" x2="984.15" y2="1032.43" stroke="#ebebeb" stroke-width="2.6"/>
<line x1="416.54" y1="1109.63" x2="984.15" y2="1109.63" stroke="#ebebeb" stroke-width="2.6"/>
<line x1="416.54" y1="1186.83" x2="984.15" y2="1186.83" stroke="#ebebeb" stroke-width="2.6"/>
<text x="442.95" y="1271.75" font-size="13.5" fill="#4d4d4d" text-anchor="middle">0.0</text>
<text x="550.22" y="1271.75" font-size="13.5" fill="#4d4d4d" text-anchor="middle">2.5</text>
<text x="657.48" y="1271.75" font-size="13.5" fill="#4d4d4d" text-anchor="middle">5.0</text>
<text x="765.15" y="1271.75" font-size="13.5" fill="#4d4d4d" text-anchor="middle">7.5</text>
<text x="872.42" y="1271.75" font-size="13.5" fill="#4d4d4d" text-anchor="middle">10.0</text>
<text x="979.28" y="1271.75" font-size="13.5" fill="#4d4d4d" text-anchor="middle">12.5</text>
<text x="410.04" y="960.03" font-size="13.5" fill="#4d4d4d" text-anchor="end">90</text>
<text x="410.04" y="1037.23" font-size="13.5" fill="#4d4d4d" text-anchor="end">80</text>
<text x="410.04" y="1114.43" font-size="13.5" fill="#4d4d4d" text-anchor="end">70</text>
<text x="410.04" y="1191.63" font-size="13.5" fill="#4d4d4d" text-anchor="end">60</text>
<g fill="none" stroke="#000" stroke-width="1.38"><circle cx="771.85" cy="910.84" r="2.95"/><circle cx="785.67" cy="913.28" r="2.95"/><circle cx="713.35" cy="917.75" r="2.95"/><circle cx="816.95" cy="923.44" r="2.95"/><circle cx="809.64" cy="931.15" r="2.95"/><circle cx="816.14" cy="931.97" r="2.95"/><circle cx="910.81" cy="925.87" r="2.95"/><circle cx="909.19" cy="931.15" r="2.95"/><circle cx="780.39" cy="938.06" r="2.95"/><circle cx="908.37" cy="940.09" r="2.95"/><circle cx="864.49" cy="942.53" r="2.95"/><circle cx="920.97" cy="944.97" r="2.95"/><circle cx="915.28" cy="947" r="2.95"/><circle cx="923.41" cy="947.81" r="2.95"/><circle cx="955.91" cy="941.72" r="2.95"/><circle cx="959.16" cy="941.72" r="2.95"/><circle cx="696.69" cy="945.78" r="2.95"/><circle cx="781.2" cy="952.69" r="2.95"/><circle cx="735.69" cy="960" r="2.95"/><circle cx="894.97" cy="959.19" r="2.95"/><circle cx="903.9" cy="957.97" r="2.95"/><circle cx="948.6" cy="961.63" r="2.95"/><circle cx="941.69" cy="965.69" r="2.95"/><circle cx="782.01" cy="968.13" r="2.95"/><circle cx="849.46" cy="973.41" r="2.95"/><circle cx="858.4" cy="974.22" r="2.95"/><circle cx="861.24" cy="975.04" r="2.95"/><circle cx="949.82" cy="972.6" r="2.95"/><circle cx="784.04" cy="978.29" r="2.95"/><circle cx="906.75" cy="976.66" r="2.95"/><circle cx="723.91" cy="983.57" r="2.95"/><circle cx="893.34" cy="980.32" r="2.95"/><circle cx="905.53" cy="984.38" r="2.95"/><circle cx="921.38" cy="980.32" r="2.95"/><circle cx="821.02" cy="983.57" r="2.95"/><circle cx="829.14" cy="987.23" r="2.95"/><circle cx="940.88" cy="990.48" r="2.95"/><circle cx="669.06" cy="995.76" r="2.95"/><circle cx="702.78" cy="992.1" r="2.95"/><circle cx="748.29" cy="995.76" r="2.95"/><circle cx="771.04" cy="992.1" r="2.95"/><circle cx="851.49" cy="995.35" r="2.95"/><circle cx="817.77" cy="999.82" r="2.95"/><circle cx="820.2" cy="997.79" r="2.95"/><circle cx="773.89" cy="1000.63" r="2.95"/><circle cx="847.43" cy="1001.04" r="2.95"/><circle cx="882.37" cy="999.82" r="2.95"/><circle cx="909.19" cy="1000.23" r="2.95"/><circle cx="713.75" cy="1002.26" r="2.95"/><circle cx="684.09" cy="1005.1" r="2.95"/><circle cx="762.1" cy="1004.29" r="2.95"/><circle cx="872.62" cy="1004.29" r="2.95"/><circle cx="693.03" cy="1009.98" r="2.95"/><circle cx="713.75" cy="1010.38" r="2.95"/><circle cx="723.91" cy="1010.79" r="2.95"/><circle cx="745.04" cy="1011.6" r="2.95"/><circle cx="743.01" cy="1013.63" r="2.95"/><circle cx="914.47" cy="1009.57" r="2.95"/><circle cx="693.03" cy="1014.85" r="2.95"/><circle cx="700.75" cy="1013.63" r="2.95"/><circle cx="718.22" cy="1016.07" r="2.95"/><circle cx="747.07" cy="1016.89" r="2.95"/><circle cx="818.17" cy="1017.29" r="2.95"/><circle cx="780.39" cy="1018.92" r="2.95"/><circle cx="699.94" cy="1020.14" r="2.95"/><circle cx="738.13" cy="1020.54" r="2.95"/><circle cx="725.94" cy="1022.98" r="2.95"/><circle cx="712.13" cy="1023.79" r="2.95"/><circle cx="689.37" cy="1024.61" r="2.95"/><circle cx="662.56" cy="1025.82" r="2.95"/><circle cx="876.68" cy="1018.92" r="2.95"/><circle cx="881.96" cy="1015.26" r="2.95"/><circle cx="880.74" cy="1025.01" r="2.95"/><circle cx="882.78" cy="1025.82" r="2.95"/><circle cx="752.35" cy="1029.07" r="2.95"/><circle cx="798.26" cy="1027.45" r="2.95"/><circle cx="842.96" cy="1029.07" r="2.95"/><circle cx="811.67" cy="1030.7" r="2.95"/><circle cx="809.64" cy="1036.39" r="2.95"/><circle cx="810.86" cy="1037.61" r="2.95"/><circle cx="866.52" cy="1032.33" r="2.95"/><circle cx="867.74" cy="1031.92" r="2.95"/><circle cx="882.78" cy="1034.36" r="2.95"/><circle cx="942.91" cy="1031.51" r="2.95"/><circle cx="678.4" cy="1040.45" r="2.95"/><circle cx="735.69" cy="1042.48" r="2.95"/><circle cx="789.33" cy="1042.08" r="2.95"/><circle cx="803.95" cy="1041.26" r="2.95"/><circle cx="920.56" cy="1040.45" r="2.95"/><circle cx="753.57" cy="1045.33" r="2.95"/><circle cx="775.92" cy="1046.55" r="2.95"/><circle cx="773.07" cy="1049.8" r="2.95"/><circle cx="731.63" cy="1050.2" r="2.95"/><circle cx="733.26" cy="1057.52" r="2.95"/><circle cx="762.1" cy="1052.23" r="2.95"/><circle cx="866.52" cy="1051.42" r="2.95"/><circle cx="849.46" cy="1057.11" r="2.95"/><circle cx="660.12" cy="1059.14" r="2.95"/><circle cx="708.47" cy="1055.48" r="2.95"/><circle cx="710.5" cy="1057.52" r="2.95"/><circle cx="708.06" cy="1060.36" r="2.95"/><circle cx="668.65" cy="1066.05" r="2.95"/><circle cx="697.09" cy="1068.08" r="2.95"/><circle cx="700.34" cy="1069.3" r="2.95"/><circle cx="826.3" cy="1069.3" r="2.95"/><circle cx="904.72" cy="1072.96" r="2.95"/><circle cx="646.31" cy="1075.39" r="2.95"/><circle cx="807.2" cy="1076.61" r="2.95"/><circle cx="678.4" cy="1079.46" r="2.95"/><circle cx="697.91" cy="1080.27" r="2.95"/><circle cx="731.63" cy="1079.46" r="2.95"/><circle cx="763.32" cy="1080.27" r="2.95"/><circle cx="715.38" cy="1082.71" r="2.95"/><circle cx="630.05" cy="1084.74" r="2.95"/><circle cx="669.47" cy="1085.55" r="2.95"/><circle cx="765.35" cy="1088.4" r="2.95"/><circle cx="649.15" cy="1093.27" r="2.95"/><circle cx="646.31" cy="1097.74" r="2.95"/><circle cx="644.27" cy="1101.8" r="2.95"/><circle cx="706.44" cy="1093.27" r="2.95"/><circle cx="780.39" cy="1091.65" r="2.95"/><circle cx="786.08" cy="1096.12" r="2.95"/><circle cx="798.26" cy="1094.9" r="2.95"/><circle cx="741.38" cy="1096.12" r="2.95"/><circle cx="678.81" cy="1101.8" r="2.95"/><circle cx="662.15" cy="1103.02" r="2.95"/><circle cx="850.68" cy="1098.96" r="2.95"/><circle cx="855.15" cy="1105.46" r="2.95"/><circle cx="770.64" cy="1105.46" r="2.95"/><circle cx="786.08" cy="1107.09" r="2.95"/><circle cx="593.49" cy="1102.62" r="2.95"/><circle cx="615.83" cy="1115.62" r="2.95"/><circle cx="672.31" cy="1111.96" r="2.95"/><circle cx="677.59" cy="1113.99" r="2.95"/><circle cx="686.12" cy="1114.81" r="2.95"/><circle cx="689.78" cy="1115.21" r="2.95"/><circle cx="625.99" cy="1123.74" r="2.95"/><circle cx="724.72" cy="1121.71" r="2.95"/><circle cx="748.29" cy="1126.99" r="2.95"/><circle cx="805.17" cy="1126.18" r="2.95"/><circle cx="766.17" cy="1130.24" r="2.95"/><circle cx="637.77" cy="1137.15" r="2.95"/><circle cx="649.15" cy="1143.25" r="2.95"/><circle cx="666.21" cy="1143.25" r="2.95"/><circle cx="674.75" cy="1139.59" r="2.95"/><circle cx="692.62" cy="1137.96" r="2.95"/><circle cx="696.28" cy="1140" r="2.95"/><circle cx="684.91" cy="1147.31" r="2.95"/><circle cx="737.32" cy="1141.62" r="2.95"/><circle cx="747.88" cy="1142.03" r="2.95"/><circle cx="753.57" cy="1147.31" r="2.95"/><circle cx="630.46" cy="1150.97" r="2.95"/><circle cx="655.65" cy="1146.5" r="2.95"/><circle cx="714.57" cy="1149.75" r="2.95"/><circle cx="704" cy="1155.03" r="2.95"/><circle cx="442.75" cy="1159.5" r="2.95"/><circle cx="662.96" cy="1164.37" r="2.95"/><circle cx="701.56" cy="1164.37" r="2.95"/><circle cx="683.28" cy="1177.38" r="2.95"/><circle cx="645.09" cy="1196.47" r="2.95"/><circle cx="660.12" cy="1201.35" r="2.95"/><circle cx="704.41" cy="1202.97" r="2.95"/><circle cx="642.65" cy="1239.13" r="2.95"/></g>
<text x="445.8" y="944.76" font-size="31.7" fill="#2e3a92" text-anchor="start">r = 0.608</text>
<text x="724.52" y="1300.19" font-size="20.1" fill="#000" text-anchor="middle">glog transformed Lactate</text>
<text x="0" y="0" font-size="20" fill="#000" text-anchor="middle" transform="translate(382.82 1073.47) rotate(-90)">Fecal H2O %</text>
<line x1="1169.24" y1="894.08" x2="1169.24" y2="1254.2" stroke="#ebebeb" stroke-width="1.5"/>
<line x1="1293.21" y1="894.08" x2="1293.21" y2="1254.2" stroke="#ebebeb" stroke-width="1.5"/>
<line x1="1417.19" y1="894.08" x2="1417.19" y2="1254.2" stroke="#ebebeb" stroke-width="1.5"/>
<line x1="1541.17" y1="894.08" x2="1541.17" y2="1254.2" stroke="#ebebeb" stroke-width="1.5"/>
<line x1="1081.47" y1="916.91" x2="1649" y2="916.91" stroke="#ebebeb" stroke-width="1.5"/>
<line x1="1081.47" y1="994.05" x2="1649" y2="994.05" stroke="#ebebeb" stroke-width="1.5"/>
<line x1="1081.47" y1="1071.19" x2="1649" y2="1071.19" stroke="#ebebeb" stroke-width="1.5"/>
<line x1="1081.47" y1="1148.33" x2="1649" y2="1148.33" stroke="#ebebeb" stroke-width="1.5"/>
<line x1="1081.47" y1="1225.08" x2="1649" y2="1225.08" stroke="#ebebeb" stroke-width="1.5"/>
<line x1="1107.45" y1="894.08" x2="1107.45" y2="1254.2" stroke="#ebebeb" stroke-width="2.8"/>
<line x1="1231.42" y1="894.08" x2="1231.42" y2="1254.2" stroke="#ebebeb" stroke-width="2.8"/>
<line x1="1355.4" y1="894.08" x2="1355.4" y2="1254.2" stroke="#ebebeb" stroke-width="2.8"/>
<line x1="1479.38" y1="894.08" x2="1479.38" y2="1254.2" stroke="#ebebeb" stroke-width="2.8"/>
<line x1="1602.96" y1="894.08" x2="1602.96" y2="1254.2" stroke="#ebebeb" stroke-width="2.8"/>
<line x1="1081.47" y1="955.48" x2="1649" y2="955.48" stroke="#ebebeb" stroke-width="2.6"/>
<line x1="1081.47" y1="1032.62" x2="1649" y2="1032.62" stroke="#ebebeb" stroke-width="2.6"/>
<line x1="1081.47" y1="1109.76" x2="1649" y2="1109.76" stroke="#ebebeb" stroke-width="2.6"/>
<line x1="1081.47" y1="1186.9" x2="1649" y2="1186.9" stroke="#ebebeb" stroke-width="2.6"/>
<text x="1107.45" y="1271.13" font-size="13.5" fill="#4d4d4d" text-anchor="middle">0.0</text>
<text x="1231.42" y="1271.13" font-size="13.5" fill="#4d4d4d" text-anchor="middle">2.5</text>
<text x="1355.4" y="1271.13" font-size="13.5" fill="#4d4d4d" text-anchor="middle">5.0</text>
<text x="1479.38" y="1271.13" font-size="13.5" fill="#4d4d4d" text-anchor="middle">7.5</text>
<text x="1602.96" y="1271.13" font-size="13.5" fill="#4d4d4d" text-anchor="middle">10.0</text>
<text x="1073.99" y="960.28" font-size="13.5" fill="#4d4d4d" text-anchor="end">90</text>
<text x="1073.99" y="1037.42" font-size="13.5" fill="#4d4d4d" text-anchor="end">80</text>
<text x="1073.99" y="1114.56" font-size="13.5" fill="#4d4d4d" text-anchor="end">70</text>
<text x="1073.99" y="1191.7" font-size="13.5" fill="#4d4d4d" text-anchor="end">60</text>
<g fill="none" stroke="#000" stroke-width="1.38"><circle cx="1107.65" cy="913.27" r="2.95"/><circle cx="1107.65" cy="991.99" r="2.95"/><circle cx="1107.65" cy="1001.83" r="2.95"/><circle cx="1107.65" cy="1004.58" r="2.95"/><circle cx="1107.65" cy="1023.08" r="2.95"/><circle cx="1107.65" cy="1028.59" r="2.95"/><circle cx="1107.65" cy="1035.28" r="2.95"/><circle cx="1107.65" cy="1041.58" r="2.95"/><circle cx="1107.65" cy="1049.45" r="2.95"/><circle cx="1107.65" cy="1056.93" r="2.95"/><circle cx="1107.65" cy="1075.43" r="2.95"/><circle cx="1107.65" cy="1077.79" r="2.95"/><circle cx="1107.65" cy="1080.15" r="2.95"/><circle cx="1107.65" cy="1085.27" r="2.95"/><circle cx="1107.65" cy="1092.35" r="2.95"/><circle cx="1107.65" cy="1098.25" r="2.95"/><circle cx="1107.65" cy="1101.4" r="2.95"/><circle cx="1107.65" cy="1104.16" r="2.95"/><circle cx="1107.65" cy="1115.18" r="2.95"/><circle cx="1107.65" cy="1123.44" r="2.95"/><circle cx="1107.65" cy="1137.61" r="2.95"/><circle cx="1107.65" cy="1140.37" r="2.95"/><circle cx="1107.65" cy="1146.27" r="2.95"/><circle cx="1107.65" cy="1159.65" r="2.95"/><circle cx="1107.65" cy="1163.98" r="2.95"/><circle cx="1107.65" cy="1200.58" r="2.95"/><circle cx="1107.65" cy="1202.16" r="2.95"/><circle cx="1107.65" cy="1238.76" r="2.95"/><circle cx="1367.01" cy="910.91" r="2.95"/><circle cx="1458.32" cy="918" r="2.95"/><circle cx="1525.63" cy="923.51" r="2.95"/><circle cx="1527.59" cy="930.59" r="2.95"/><circle cx="1556.32" cy="931.77" r="2.95"/><circle cx="1566.95" cy="930.98" r="2.95"/><circle cx="1615.36" cy="925.47" r="2.95"/><circle cx="1623.23" cy="941.61" r="2.95"/><circle cx="1322.54" cy="940.04" r="2.95"/><circle cx="1439.04" cy="938.07" r="2.95"/><circle cx="1439.83" cy="942.79" r="2.95"/><circle cx="1532.71" cy="945.55" r="2.95"/><circle cx="1583.87" cy="942" r="2.95"/><circle cx="1577.18" cy="947.12" r="2.95"/><circle cx="1581.91" cy="947.51" r="2.95"/><circle cx="1592.53" cy="944.76" r="2.95"/><circle cx="1514.21" cy="952.63" r="2.95"/><circle cx="1317.42" cy="960.11" r="2.95"/><circle cx="1548.06" cy="959.32" r="2.95"/><circle cx="1600.01" cy="958.14" r="2.95"/><circle cx="1606.31" cy="961.68" r="2.95"/><circle cx="1573.64" cy="965.62" r="2.95"/><circle cx="1594.5" cy="967.98" r="2.95"/><circle cx="1555.14" cy="973.49" r="2.95"/><circle cx="1565.77" cy="976.24" r="2.95"/><circle cx="1585.06" cy="973.1" r="2.95"/><circle cx="1585.06" cy="975.46" r="2.95"/><circle cx="1576.4" cy="980.18" r="2.95"/><circle cx="1597.65" cy="980.18" r="2.95"/><circle cx="1416.21" cy="974.28" r="2.95"/><circle cx="1461.47" cy="977.82" r="2.95"/><circle cx="1285.15" cy="983.33" r="2.95"/><circle cx="1289.87" cy="984.12" r="2.95"/><circle cx="1389.84" cy="983.33" r="2.95"/><circle cx="1392.6" cy="990.41" r="2.95"/><circle cx="1315.46" cy="991.59" r="2.95"/><circle cx="1573.64" cy="987.26" r="2.95"/><circle cx="1570.89" cy="995.14" r="2.95"/><circle cx="1276.88" cy="995.53" r="2.95"/><circle cx="1269.41" cy="1000.65" r="2.95"/><circle cx="1315.46" cy="1001.04" r="2.95"/><circle cx="1362.29" cy="997.5" r="2.95"/><circle cx="1364.26" cy="1000.65" r="2.95"/><circle cx="1350.88" cy="1004.19" r="2.95"/><circle cx="1402.44" cy="995.92" r="2.95"/><circle cx="1409.13" cy="999.86" r="2.95"/><circle cx="1407.95" cy="1003.79" r="2.95"/><circle cx="1478.79" cy="999.47" r="2.95"/><circle cx="1288.3" cy="1011.27" r="2.95"/><circle cx="1484.69" cy="1010.49" r="2.95"/><circle cx="1587.42" cy="1010.49" r="2.95"/><circle cx="1422.51" cy="1009.7" r="2.95"/><circle cx="1424.08" cy="1009.7" r="2.95"/><circle cx="1344.97" cy="1013.24" r="2.95"/><circle cx="1350.09" cy="1016.39" r="2.95"/><circle cx="1361.11" cy="1014.82" r="2.95"/><circle cx="1372.52" cy="1013.24" r="2.95"/><circle cx="1326.08" cy="1015.6" r="2.95"/><circle cx="1379.21" cy="1017.57" r="2.95"/><circle cx="1395.35" cy="1014.42" r="2.95"/><circle cx="1356.39" cy="1019.54" r="2.95"/><circle cx="1307.98" cy="1023.47" r="2.95"/><circle cx="1308.37" cy="1025.84" r="2.95"/><circle cx="1330.41" cy="1025.84" r="2.95"/><circle cx="1370.16" cy="1025.05" r="2.95"/><circle cx="1391.02" cy="1024.26" r="2.95"/><circle cx="1343.79" cy="1027.41" r="2.95"/><circle cx="1462.26" cy="1020.33" r="2.95"/><circle cx="1481.94" cy="1018.75" r="2.95"/><circle cx="1556.32" cy="1019.14" r="2.95"/><circle cx="1290.66" cy="1031.74" r="2.95"/><circle cx="1298.92" cy="1031.35" r="2.95"/><circle cx="1357.96" cy="1031.35" r="2.95"/><circle cx="1300.11" cy="1037.25" r="2.95"/><circle cx="1436.68" cy="1030.56" r="2.95"/><circle cx="1529.56" cy="1034.1" r="2.95"/><circle cx="1276.88" cy="1040.4" r="2.95"/><circle cx="1285.54" cy="1042.37" r="2.95"/><circle cx="1287.51" cy="1045.91" r="2.95"/><circle cx="1408.34" cy="1041.18" r="2.95"/><circle cx="1402.83" cy="1045.12" r="2.95"/><circle cx="1579.94" cy="1040.4" r="2.95"/><circle cx="1293.41" cy="1052.2" r="2.95"/><circle cx="1323.72" cy="1049.84" r="2.95"/><circle cx="1362.29" cy="1051.42" r="2.95"/><circle cx="1340.25" cy="1055.35" r="2.95"/><circle cx="1358.35" cy="1057.32" r="2.95"/><circle cx="1275.31" cy="1058.9" r="2.95"/><circle cx="1318.21" cy="1060.86" r="2.95"/><circle cx="1558.29" cy="1056.53" r="2.95"/><circle cx="1298.14" cy="1065.98" r="2.95"/><circle cx="1307.98" cy="1069.13" r="2.95"/><circle cx="1332.77" cy="1067.95" r="2.95"/><circle cx="1333.56" cy="1069.52" r="2.95"/><circle cx="1261.14" cy="1078.97" r="2.95"/><circle cx="1293.41" cy="1079.76" r="2.95"/><circle cx="1379.61" cy="1078.97" r="2.95"/><circle cx="1341.82" cy="1082.12" r="2.95"/><circle cx="1476.03" cy="1084.48" r="2.95"/><circle cx="1565.38" cy="1072.67" r="2.95"/><circle cx="1325.29" cy="1088.41" r="2.95"/><circle cx="1380.79" cy="1091.17" r="2.95"/><circle cx="1310.73" cy="1093.14" r="2.95"/><circle cx="1316.24" cy="1101.4" r="2.95"/><circle cx="1392.6" cy="1099.04" r="2.95"/><circle cx="1444.55" cy="1096.29" r="2.95"/><circle cx="1513.03" cy="1094.71" r="2.95"/><circle cx="1252.09" cy="1096.29" r="2.95"/><circle cx="1240.28" cy="1102.98" r="2.95"/><circle cx="1289.48" cy="1105.34" r="2.95"/><circle cx="1285.94" cy="1106.91" r="2.95"/><circle cx="1272.56" cy="1111.64" r="2.95"/><circle cx="1267.83" cy="1114.78" r="2.95"/><circle cx="1253.66" cy="1114" r="2.95"/><circle cx="1357.96" cy="1115.18" r="2.95"/><circle cx="1264.29" cy="1121.87" r="2.95"/><circle cx="1365.44" cy="1126.98" r="2.95"/><circle cx="1411.88" cy="1130.13" r="2.95"/><circle cx="1505.16" cy="1126.2" r="2.95"/><circle cx="1227.69" cy="1149.42" r="2.95"/><circle cx="1250.51" cy="1146.27" r="2.95"/><circle cx="1255.24" cy="1139.19" r="2.95"/><circle cx="1274.52" cy="1143.12" r="2.95"/><circle cx="1284.76" cy="1141.55" r="2.95"/><circle cx="1302.07" cy="1137.61" r="2.95"/><circle cx="1296.17" cy="1150.6" r="2.95"/><circle cx="1310.73" cy="1154.53" r="2.95"/><circle cx="1287.12" cy="1163.98" r="2.95"/><circle cx="1268.23" cy="1176.97" r="2.95"/><circle cx="1282.79" cy="1196.25" r="2.95"/></g>
<text x="1126.73" y="944.17" font-size="31.7" fill="#2e3a92" text-anchor="start">r = 0.586</text>
<text x="1395.54" y="1299.86" font-size="20.1" fill="#000" text-anchor="middle">glog transformed 1,2-Propanediol</text>
<text x="0" y="0" font-size="20" fill="#000" text-anchor="middle" transform="translate(1046.44 1073.16) rotate(-90)">Fecal H2O %</text>
<line x1="477.49" y1="1351.69" x2="477.49" y2="1712.09" stroke="#ebebeb" stroke-width="1.5"/>
<line x1="599.79" y1="1351.69" x2="599.79" y2="1712.09" stroke="#ebebeb" stroke-width="1.5"/>
<line x1="722.09" y1="1351.69" x2="722.09" y2="1712.09" stroke="#ebebeb" stroke-width="1.5"/>
<line x1="844.38" y1="1351.69" x2="844.38" y2="1712.09" stroke="#ebebeb" stroke-width="1.5"/>
<line x1="390.95" y1="1374.04" x2="958.56" y2="1374.04" stroke="#ebebeb" stroke-width="1.5"/>
<line x1="390.95" y1="1451.24" x2="958.56" y2="1451.24" stroke="#ebebeb" stroke-width="1.5"/>
<line x1="390.95" y1="1528.43" x2="958.56" y2="1528.43" stroke="#ebebeb" stroke-width="1.5"/>
<line x1="390.95" y1="1605.63" x2="958.56" y2="1605.63" stroke="#ebebeb" stroke-width="1.5"/>
<line x1="390.95" y1="1682.83" x2="958.56" y2="1682.83" stroke="#ebebeb" stroke-width="1.5"/>
<line x1="416.54" y1="1351.69" x2="416.54" y2="1712.09" stroke="#ebebeb" stroke-width="2.8"/>
<line x1="538.84" y1="1351.69" x2="538.84" y2="1712.09" stroke="#ebebeb" stroke-width="2.8"/>
<line x1="661.14" y1="1351.69" x2="661.14" y2="1712.09" stroke="#ebebeb" stroke-width="2.8"/>
<line x1="783.03" y1="1351.69" x2="783.03" y2="1712.09" stroke="#ebebeb" stroke-width="2.8"/>
<line x1="905.33" y1="1351.69" x2="905.33" y2="1712.09" stroke="#ebebeb" stroke-width="2.8"/>
<line x1="390.95" y1="1412.64" x2="958.56" y2="1412.64" stroke="#ebebeb" stroke-width="2.6"/>
<line x1="390.95" y1="1489.84" x2="958.56" y2="1489.84" stroke="#ebebeb" stroke-width="2.6"/>
<line x1="390.95" y1="1567.03" x2="958.56" y2="1567.03" stroke="#ebebeb" stroke-width="2.6"/>
<line x1="390.95" y1="1644.23" x2="958.56" y2="1644.23" stroke="#ebebeb" stroke-width="2.6"/>
<text x="416.54" y="1729.15" font-size="13.5" fill="#4d4d4d" text-anchor="middle">0.0</text>
<text x="538.84" y="1729.15" font-size="13.5" fill="#4d4d4d" text-anchor="middle">2.5</text>
<text x="661.14" y="1729.15" font-size="13.5" fill="#4d4d4d" text-anchor="middle">5.0</text>
<text x="783.03" y="1729.15" font-size="13.5" fill="#4d4d4d" text-anchor="middle">7.5</text>
<text x="905.33" y="1729.15" font-size="13.5" fill="#4d4d4d" text-anchor="middle">10.0</text>
<text x="383.63" y="1417.44" font-size="13.5" fill="#4d4d4d" text-anchor="end">90</text>
<text x="383.63" y="1494.64" font-size="13.5" fill="#4d4d4d" text-anchor="end">80</text>
<text x="383.63" y="1571.83" font-size="13.5" fill="#4d4d4d" text-anchor="end">70</text>
<text x="383.63" y="1649.03" font-size="13.5" fill="#4d4d4d" text-anchor="end">60</text>
<g fill="none" stroke="#000" stroke-width="1.38"><circle cx="416.74" cy="1525.08" r="2.95"/><circle cx="416.74" cy="1560.43" r="2.95"/><circle cx="416.74" cy="1606.75" r="2.95"/><circle cx="751.54" cy="1370.68" r="2.95"/><circle cx="792.98" cy="1368.24" r="2.95"/><circle cx="847.02" cy="1375.15" r="2.95"/><circle cx="835.24" cy="1382.87" r="2.95"/><circle cx="866.12" cy="1380.43" r="2.95"/><circle cx="839.3" cy="1388.15" r="2.95"/><circle cx="844.18" cy="1388.56" r="2.95"/><circle cx="887.25" cy="1388.97" r="2.95"/><circle cx="793.79" cy="1395.06" r="2.95"/><circle cx="843.77" cy="1397.5" r="2.95"/><circle cx="888.87" cy="1398.72" r="2.95"/><circle cx="862.05" cy="1398.72" r="2.95"/><circle cx="873.02" cy="1399.53" r="2.95"/><circle cx="764.13" cy="1405.22" r="2.95"/><circle cx="803.14" cy="1402.78" r="2.95"/><circle cx="815.33" cy="1404.41" r="2.95"/><circle cx="822.24" cy="1401.97" r="2.95"/><circle cx="844.58" cy="1409.69" r="2.95"/><circle cx="855.15" cy="1415.38" r="2.95"/><circle cx="862.05" cy="1417.41" r="2.95"/><circle cx="821.42" cy="1416.59" r="2.95"/><circle cx="900.25" cy="1419.03" r="2.95"/><circle cx="849.46" cy="1423.1" r="2.95"/><circle cx="847.83" cy="1425.13" r="2.95"/><circle cx="833.21" cy="1433.66" r="2.95"/><circle cx="859.21" cy="1435.28" r="2.95"/><circle cx="881.96" cy="1430.82" r="2.95"/><circle cx="891.31" cy="1432.03" r="2.95"/><circle cx="878.31" cy="1432.03" r="2.95"/><circle cx="913.66" cy="1430" r="2.95"/><circle cx="920.16" cy="1437.32" r="2.95"/><circle cx="932.35" cy="1440.57" r="2.95"/><circle cx="788.92" cy="1437.72" r="2.95"/><circle cx="841.74" cy="1440.57" r="2.95"/><circle cx="902.68" cy="1444.63" r="2.95"/><circle cx="878.31" cy="1441.38" r="2.95"/><circle cx="865.3" cy="1447.47" r="2.95"/><circle cx="844.18" cy="1449.1" r="2.95"/><circle cx="832.8" cy="1449.51" r="2.95"/><circle cx="725.94" cy="1453.16" r="2.95"/><circle cx="775.51" cy="1453.16" r="2.95"/><circle cx="825.49" cy="1452.35" r="2.95"/><circle cx="853.93" cy="1457.23" r="2.95"/><circle cx="833.61" cy="1458.44" r="2.95"/><circle cx="834.83" cy="1459.26" r="2.95"/><circle cx="858.4" cy="1461.69" r="2.95"/><circle cx="885.21" cy="1456.41" r="2.95"/><circle cx="890.9" cy="1457.63" r="2.95"/><circle cx="763.73" cy="1462.51" r="2.95"/><circle cx="797.05" cy="1461.69" r="2.95"/><circle cx="782.01" cy="1466.98" r="2.95"/><circle cx="800.7" cy="1467.79" r="2.95"/><circle cx="801.11" cy="1471.45" r="2.95"/><circle cx="763.32" cy="1471.04" r="2.95"/><circle cx="790.54" cy="1473.48" r="2.95"/><circle cx="781.61" cy="1474.7" r="2.95"/><circle cx="813.3" cy="1470.63" r="2.95"/><circle cx="839.71" cy="1472.66" r="2.95"/><circle cx="845.8" cy="1468.6" r="2.95"/><circle cx="881.56" cy="1466.98" r="2.95"/><circle cx="887.65" cy="1467.79" r="2.95"/><circle cx="860.43" cy="1473.48" r="2.95"/><circle cx="857.59" cy="1476.32" r="2.95"/><circle cx="893.34" cy="1475.92" r="2.95"/><circle cx="713.75" cy="1476.73" r="2.95"/><circle cx="919.34" cy="1477.54" r="2.95"/><circle cx="769.01" cy="1481.6" r="2.95"/><circle cx="818.58" cy="1479.98" r="2.95"/><circle cx="812.08" cy="1482.82" r="2.95"/><circle cx="751.54" cy="1483.23" r="2.95"/><circle cx="803.14" cy="1486.48" r="2.95"/><circle cx="818.99" cy="1488.51" r="2.95"/><circle cx="839.3" cy="1486.07" r="2.95"/><circle cx="839.71" cy="1480.79" r="2.95"/><circle cx="844.99" cy="1488.51" r="2.95"/><circle cx="846.21" cy="1489.32" r="2.95"/><circle cx="867.74" cy="1484.45" r="2.95"/><circle cx="872.21" cy="1482.42" r="2.95"/><circle cx="891.31" cy="1487.7" r="2.95"/><circle cx="869.77" cy="1491.76" r="2.95"/><circle cx="855.15" cy="1492.98" r="2.95"/><circle cx="799.48" cy="1494.61" r="2.95"/><circle cx="808.83" cy="1497.86" r="2.95"/><circle cx="748.7" cy="1497.86" r="2.95"/><circle cx="833.61" cy="1499.48" r="2.95"/><circle cx="871.81" cy="1498.26" r="2.95"/><circle cx="867.34" cy="1502.33" r="2.95"/><circle cx="676.37" cy="1499.48" r="2.95"/><circle cx="775.92" cy="1503.54" r="2.95"/><circle cx="764.95" cy="1507.2" r="2.95"/><circle cx="771.85" cy="1512.48" r="2.95"/><circle cx="809.23" cy="1507.2" r="2.95"/><circle cx="785.67" cy="1514.92" r="2.95"/><circle cx="760.48" cy="1516.55" r="2.95"/><circle cx="823.46" cy="1517.76" r="2.95"/><circle cx="857.18" cy="1508.42" r="2.95"/><circle cx="860.43" cy="1509.64" r="2.95"/><circle cx="873.02" cy="1514.51" r="2.95"/><circle cx="877.9" cy="1514.11" r="2.95"/><circle cx="784.45" cy="1523.45" r="2.95"/><circle cx="718.63" cy="1526.7" r="2.95"/><circle cx="802.73" cy="1526.3" r="2.95"/><circle cx="728.38" cy="1532.8" r="2.95"/><circle cx="740.98" cy="1537.27" r="2.95"/><circle cx="784.45" cy="1536.45" r="2.95"/><circle cx="795.83" cy="1536.45" r="2.95"/><circle cx="829.14" cy="1534.42" r="2.95"/><circle cx="827.52" cy="1537.27" r="2.95"/><circle cx="851.08" cy="1530.36" r="2.95"/><circle cx="696.69" cy="1539.71" r="2.95"/><circle cx="725.13" cy="1542.55" r="2.95"/><circle cx="731.22" cy="1541.74" r="2.95"/><circle cx="796.64" cy="1545.8" r="2.95"/><circle cx="734.47" cy="1550.27" r="2.95"/><circle cx="744.23" cy="1550.27" r="2.95"/><circle cx="847.43" cy="1549.05" r="2.95"/><circle cx="867.74" cy="1551.89" r="2.95"/><circle cx="832.8" cy="1553.52" r="2.95"/><circle cx="783.23" cy="1553.52" r="2.95"/><circle cx="811.27" cy="1556.36" r="2.95"/><circle cx="685.31" cy="1555.14" r="2.95"/><circle cx="761.7" cy="1558.8" r="2.95"/><circle cx="765.35" cy="1559.61" r="2.95"/><circle cx="797.45" cy="1558.8" r="2.95"/><circle cx="742.19" cy="1564.08" r="2.95"/><circle cx="779.57" cy="1562.46" r="2.95"/><circle cx="783.23" cy="1562.86" r="2.95"/><circle cx="711.31" cy="1568.96" r="2.95"/><circle cx="744.63" cy="1570.99" r="2.95"/><circle cx="752.76" cy="1572.21" r="2.95"/><circle cx="756.01" cy="1572.62" r="2.95"/><circle cx="779.98" cy="1572.62" r="2.95"/><circle cx="697.5" cy="1578.71" r="2.95"/><circle cx="714.57" cy="1581.15" r="2.95"/><circle cx="795.01" cy="1584.4" r="2.95"/><circle cx="855.15" cy="1583.59" r="2.95"/><circle cx="879.12" cy="1587.24" r="2.95"/><circle cx="729.19" cy="1594.56" r="2.95"/><circle cx="771.04" cy="1599.03" r="2.95"/><circle cx="693.84" cy="1599.03" r="2.95"/><circle cx="704.81" cy="1597.4" r="2.95"/><circle cx="710.1" cy="1595.37" r="2.95"/><circle cx="710.5" cy="1600.65" r="2.95"/><circle cx="715.38" cy="1596.59" r="2.95"/><circle cx="721.07" cy="1600.65" r="2.95"/><circle cx="722.69" cy="1604.31" r="2.95"/><circle cx="689.37" cy="1604.31" r="2.95"/><circle cx="692.62" cy="1603.5" r="2.95"/><circle cx="729.19" cy="1607.96" r="2.95"/><circle cx="769.01" cy="1612.03" r="2.95"/><circle cx="682.47" cy="1616.9" r="2.95"/><circle cx="710.5" cy="1621.37" r="2.95"/><circle cx="749.91" cy="1621.37" r="2.95"/><circle cx="741.79" cy="1634.78" r="2.95"/><circle cx="685.31" cy="1658.35" r="2.95"/><circle cx="701.16" cy="1653.88" r="2.95"/><circle cx="787.29" cy="1659.97" r="2.95"/><circle cx="688.16" cy="1696.54" r="2.95"/></g>
<text x="419.39" y="1403.79" font-size="31.7" fill="#2e3a92" text-anchor="start">r = 0.554</text>
<text x="699.13" y="1758.81" font-size="20.1" fill="#000" text-anchor="middle">glog transformed Glucose</text>
<text x="0" y="0" font-size="20" fill="#000" text-anchor="middle" transform="translate(356.41 1531.28) rotate(-90)">Fecal H2O %</text>
<line x1="1151.13" y1="1348.34" x2="1151.13" y2="1709.64" stroke="#ebebeb" stroke-width="1.5"/>
<line x1="1284.16" y1="1348.34" x2="1284.16" y2="1709.64" stroke="#ebebeb" stroke-width="1.5"/>
<line x1="1417.59" y1="1348.34" x2="1417.59" y2="1709.64" stroke="#ebebeb" stroke-width="1.5"/>
<line x1="1551.01" y1="1348.34" x2="1551.01" y2="1709.64" stroke="#ebebeb" stroke-width="1.5"/>
<line x1="1059.04" y1="1371.16" x2="1625.79" y2="1371.16" stroke="#ebebeb" stroke-width="1.5"/>
<line x1="1059.04" y1="1448.31" x2="1625.79" y2="1448.31" stroke="#ebebeb" stroke-width="1.5"/>
<line x1="1059.04" y1="1525.45" x2="1625.79" y2="1525.45" stroke="#ebebeb" stroke-width="1.5"/>
<line x1="1059.04" y1="1602.59" x2="1625.79" y2="1602.59" stroke="#ebebeb" stroke-width="1.5"/>
<line x1="1059.04" y1="1679.73" x2="1625.79" y2="1679.73" stroke="#ebebeb" stroke-width="1.5"/>
<line x1="1084.23" y1="1348.34" x2="1084.23" y2="1709.64" stroke="#ebebeb" stroke-width="2.8"/>
<line x1="1217.65" y1="1348.34" x2="1217.65" y2="1709.64" stroke="#ebebeb" stroke-width="2.8"/>
<line x1="1351.07" y1="1348.34" x2="1351.07" y2="1709.64" stroke="#ebebeb" stroke-width="2.8"/>
<line x1="1484.1" y1="1348.34" x2="1484.1" y2="1709.64" stroke="#ebebeb" stroke-width="2.8"/>
<line x1="1617.52" y1="1348.34" x2="1617.52" y2="1709.64" stroke="#ebebeb" stroke-width="2.8"/>
<line x1="1059.04" y1="1409.74" x2="1625.79" y2="1409.74" stroke="#ebebeb" stroke-width="2.6"/>
<line x1="1059.04" y1="1486.88" x2="1625.79" y2="1486.88" stroke="#ebebeb" stroke-width="2.6"/>
<line x1="1059.04" y1="1564.02" x2="1625.79" y2="1564.02" stroke="#ebebeb" stroke-width="2.6"/>
<line x1="1059.04" y1="1641.16" x2="1625.79" y2="1641.16" stroke="#ebebeb" stroke-width="2.6"/>
<text x="1084.23" y="1726.17" font-size="13.5" fill="#4d4d4d" text-anchor="middle">0</text>
<text x="1217.65" y="1726.17" font-size="13.5" fill="#4d4d4d" text-anchor="middle">3</text>
<text x="1351.07" y="1726.17" font-size="13.5" fill="#4d4d4d" text-anchor="middle">6</text>
<text x="1484.1" y="1726.17" font-size="13.5" fill="#4d4d4d" text-anchor="middle">9</text>
<text x="1617.52" y="1726.17" font-size="13.5" fill="#4d4d4d" text-anchor="middle">12</text>
<text x="1051.16" y="1414.54" font-size="13.5" fill="#4d4d4d" text-anchor="end">90</text>
<text x="1051.16" y="1491.68" font-size="13.5" fill="#4d4d4d" text-anchor="end">80</text>
<text x="1051.16" y="1568.82" font-size="13.5" fill="#4d4d4d" text-anchor="end">70</text>
<text x="1051.16" y="1645.96" font-size="13.5" fill="#4d4d4d" text-anchor="end">60</text>
<g fill="none" stroke="#000" stroke-width="1.38"><circle cx="1084.43" cy="1556.84" r="2.95"/><circle cx="1084.43" cy="1613.91" r="2.95"/><circle cx="1427.23" cy="1367.53" r="2.95"/><circle cx="1523.66" cy="1365.17" r="2.95"/><circle cx="1477.22" cy="1372.25" r="2.95"/><circle cx="1471.31" cy="1380.12" r="2.95"/><circle cx="1476.43" cy="1385.24" r="2.95"/><circle cx="1494.53" cy="1377.76" r="2.95"/><circle cx="1495.71" cy="1386.03" r="2.95"/><circle cx="1510.28" cy="1385.24" r="2.95"/><circle cx="1420.15" cy="1394.69" r="2.95"/><circle cx="1443.37" cy="1392.32" r="2.95"/><circle cx="1426.84" cy="1400.2" r="2.95"/><circle cx="1457.14" cy="1402.16" r="2.95"/><circle cx="1463.83" cy="1399.41" r="2.95"/><circle cx="1474.46" cy="1396.26" r="2.95"/><circle cx="1480.36" cy="1401.38" r="2.95"/><circle cx="1491.78" cy="1397.05" r="2.95"/><circle cx="1516.18" cy="1395.87" r="2.95"/><circle cx="1426.44" cy="1413.97" r="2.95"/><circle cx="1502.4" cy="1406.89" r="2.95"/><circle cx="1496.5" cy="1412.79" r="2.95"/><circle cx="1496.89" cy="1416.33" r="2.95"/><circle cx="1492.56" cy="1419.87" r="2.95"/><circle cx="1478.4" cy="1422.24" r="2.95"/><circle cx="1545.7" cy="1414.76" r="2.95"/><circle cx="1456.75" cy="1430.9" r="2.95"/><circle cx="1446.91" cy="1434.83" r="2.95"/><circle cx="1507.13" cy="1428.53" r="2.95"/><circle cx="1512.64" cy="1429.32" r="2.95"/><circle cx="1516.97" cy="1427.75" r="2.95"/><circle cx="1526.02" cy="1432.47" r="2.95"/><circle cx="1524.84" cy="1434.44" r="2.95"/><circle cx="1543.73" cy="1426.96" r="2.95"/><circle cx="1496.11" cy="1437.98" r="2.95"/><circle cx="1510.67" cy="1441.52" r="2.95"/><circle cx="1557.11" cy="1438.37" r="2.95"/><circle cx="1600.01" cy="1437.98" r="2.95"/><circle cx="1412.27" cy="1450.18" r="2.95"/><circle cx="1460.29" cy="1446.24" r="2.95"/><circle cx="1470.13" cy="1450.18" r="2.95"/><circle cx="1481.15" cy="1449.39" r="2.95"/><circle cx="1500.83" cy="1446.24" r="2.95"/><circle cx="1504.77" cy="1451.75" r="2.95"/><circle cx="1505.16" cy="1454.12" r="2.95"/><circle cx="1515.79" cy="1454.9" r="2.95"/><circle cx="1537.43" cy="1444.67" r="2.95"/><circle cx="1490.2" cy="1455.69" r="2.95"/><circle cx="1549.24" cy="1454.12" r="2.95"/><circle cx="1556.32" cy="1454.9" r="2.95"/><circle cx="1439.43" cy="1459.63" r="2.95"/><circle cx="1450.06" cy="1458.84" r="2.95"/><circle cx="1454.78" cy="1458.84" r="2.95"/><circle cx="1459.11" cy="1456.87" r="2.95"/><circle cx="1432.35" cy="1464.35" r="2.95"/><circle cx="1435.89" cy="1469.07" r="2.95"/><circle cx="1442.19" cy="1471.83" r="2.95"/><circle cx="1465.01" cy="1465.14" r="2.95"/><circle cx="1462.65" cy="1467.89" r="2.95"/><circle cx="1469.34" cy="1473.01" r="2.95"/><circle cx="1493.75" cy="1470.65" r="2.95"/><circle cx="1498.07" cy="1465.92" r="2.95"/><circle cx="1507.13" cy="1469.86" r="2.95"/><circle cx="1511.46" cy="1469.07" r="2.95"/><circle cx="1518.93" cy="1465.14" r="2.95"/><circle cx="1567.34" cy="1463.96" r="2.95"/><circle cx="1400.86" cy="1467.89" r="2.95"/><circle cx="1395.35" cy="1473.79" r="2.95"/><circle cx="1399.68" cy="1476.94" r="2.95"/><circle cx="1365.05" cy="1480.09" r="2.95"/><circle cx="1467.38" cy="1478.91" r="2.95"/><circle cx="1478" cy="1477.73" r="2.95"/><circle cx="1481.94" cy="1473.01" r="2.95"/><circle cx="1454.78" cy="1483.24" r="2.95"/><circle cx="1466.59" cy="1485.6" r="2.95"/><circle cx="1483.12" cy="1486.39" r="2.95"/><circle cx="1498.47" cy="1484.82" r="2.95"/><circle cx="1502.4" cy="1482.06" r="2.95"/><circle cx="1506.73" cy="1480.49" r="2.95"/><circle cx="1504.37" cy="1490.33" r="2.95"/><circle cx="1511.85" cy="1488.75" r="2.95"/><circle cx="1520.9" cy="1483.24" r="2.95"/><circle cx="1533.89" cy="1474.98" r="2.95"/><circle cx="1545.3" cy="1479.31" r="2.95"/><circle cx="1410.7" cy="1486" r="2.95"/><circle cx="1408.34" cy="1491.9" r="2.95"/><circle cx="1417.39" cy="1494.65" r="2.95"/><circle cx="1434.71" cy="1496.62" r="2.95"/><circle cx="1443.76" cy="1499.38" r="2.95"/><circle cx="1450.85" cy="1504.1" r="2.95"/><circle cx="1463.05" cy="1494.65" r="2.95"/><circle cx="1465.01" cy="1496.23" r="2.95"/><circle cx="1471.71" cy="1504.1" r="2.95"/><circle cx="1481.94" cy="1506.46" r="2.95"/><circle cx="1540.58" cy="1495.84" r="2.95"/><circle cx="1389.84" cy="1500.16" r="2.95"/><circle cx="1426.44" cy="1509.61" r="2.95"/><circle cx="1416.6" cy="1513.55" r="2.95"/><circle cx="1455.96" cy="1514.73" r="2.95"/><circle cx="1463.05" cy="1511.97" r="2.95"/><circle cx="1498.47" cy="1511.97" r="2.95"/><circle cx="1506.73" cy="1506.46" r="2.95"/><circle cx="1506.73" cy="1511.18" r="2.95"/><circle cx="1411.88" cy="1521.81" r="2.95"/><circle cx="1422.51" cy="1523.39" r="2.95"/><circle cx="1485.48" cy="1520.63" r="2.95"/><circle cx="1500.04" cy="1527.32" r="2.95"/><circle cx="1320.18" cy="1523.39" r="2.95"/><circle cx="1343.01" cy="1529.68" r="2.95"/><circle cx="1361.5" cy="1533.23" r="2.95"/><circle cx="1333.17" cy="1539.52" r="2.95"/><circle cx="1375.67" cy="1539.13" r="2.95"/><circle cx="1390.63" cy="1534.41" r="2.95"/><circle cx="1411.49" cy="1536.77" r="2.95"/><circle cx="1461.87" cy="1533.62" r="2.95"/><circle cx="1480.36" cy="1531.26" r="2.95"/><circle cx="1490.2" cy="1534.01" r="2.95"/><circle cx="1474.07" cy="1542.67" r="2.95"/><circle cx="1457.54" cy="1545.82" r="2.95"/><circle cx="1481.15" cy="1548.57" r="2.95"/><circle cx="1489.81" cy="1550.54" r="2.95"/><circle cx="1377.64" cy="1550.15" r="2.95"/><circle cx="1390.63" cy="1547.79" r="2.95"/><circle cx="1398.11" cy="1547.79" r="2.95"/><circle cx="1326.48" cy="1552.12" r="2.95"/><circle cx="1348.91" cy="1557.23" r="2.95"/><circle cx="1335.53" cy="1561.17" r="2.95"/><circle cx="1376.85" cy="1559.59" r="2.95"/><circle cx="1387.09" cy="1555.66" r="2.95"/><circle cx="1427.62" cy="1553.69" r="2.95"/><circle cx="1442.58" cy="1555.66" r="2.95"/><circle cx="1480.36" cy="1559.59" r="2.95"/><circle cx="1376.85" cy="1566.29" r="2.95"/><circle cx="1382.36" cy="1568.25" r="2.95"/><circle cx="1388.27" cy="1569.43" r="2.95"/><circle cx="1392.6" cy="1569.83" r="2.95"/><circle cx="1397.71" cy="1569.83" r="2.95"/><circle cx="1351.66" cy="1575.73" r="2.95"/><circle cx="1376.46" cy="1578.09" r="2.95"/><circle cx="1448.48" cy="1581.24" r="2.95"/><circle cx="1482.73" cy="1580.45" r="2.95"/><circle cx="1539.79" cy="1584.39" r="2.95"/><circle cx="1343.4" cy="1593.44" r="2.95"/><circle cx="1375.28" cy="1594.23" r="2.95"/><circle cx="1369.38" cy="1597.77" r="2.95"/><circle cx="1362.29" cy="1601.31" r="2.95"/><circle cx="1387.09" cy="1597.38" r="2.95"/><circle cx="1389.84" cy="1600.13" r="2.95"/><circle cx="1388.66" cy="1605.25" r="2.95"/><circle cx="1378.03" cy="1603.68" r="2.95"/><circle cx="1396.93" cy="1595.8" r="2.95"/><circle cx="1406.76" cy="1591.87" r="2.95"/><circle cx="1411.88" cy="1591.47" r="2.95"/><circle cx="1427.62" cy="1601.31" r="2.95"/><circle cx="1404.4" cy="1609.19" r="2.95"/><circle cx="1381.18" cy="1618.24" r="2.95"/><circle cx="1381.97" cy="1618.24" r="2.95"/><circle cx="1396.53" cy="1631.62" r="2.95"/><circle cx="1372.52" cy="1650.9" r="2.95"/><circle cx="1371.74" cy="1655.63" r="2.95"/><circle cx="1444.94" cy="1656.81" r="2.95"/><circle cx="1346.15" cy="1693.41" r="2.95"/></g>
<text x="1100.76" y="1402.36" font-size="31.7" fill="#2e3a92" text-anchor="start">r = 0.568</text>
<text x="1368.58" y="1758.05" font-size="20.1" fill="#000" text-anchor="middle">glog transformed Galactose</text>
<text x="0" y="0" font-size="20" fill="#000" text-anchor="middle" transform="translate(1024.4 1527.81) rotate(-90)">Fecal H2O %</text>
<line x1="488.46" y1="1819.66" x2="488.46" y2="2180.87" stroke="#ebebeb" stroke-width="1.5"/>
<line x1="627.01" y1="1819.66" x2="627.01" y2="2180.87" stroke="#ebebeb" stroke-width="1.5"/>
<line x1="765.15" y1="1819.66" x2="765.15" y2="2180.87" stroke="#ebebeb" stroke-width="1.5"/>
<line x1="903.7" y1="1819.66" x2="903.7" y2="2180.87" stroke="#ebebeb" stroke-width="1.5"/>
<line x1="393.79" y1="1842.41" x2="960.99" y2="1842.41" stroke="#ebebeb" stroke-width="1.5"/>
<line x1="393.79" y1="1919.61" x2="960.99" y2="1919.61" stroke="#ebebeb" stroke-width="1.5"/>
<line x1="393.79" y1="1996.81" x2="960.99" y2="1996.81" stroke="#ebebeb" stroke-width="1.5"/>
<line x1="393.79" y1="2074.01" x2="960.99" y2="2074.01" stroke="#ebebeb" stroke-width="1.5"/>
<line x1="393.79" y1="2151.21" x2="960.99" y2="2151.21" stroke="#ebebeb" stroke-width="1.5"/>
<line x1="419.39" y1="1819.66" x2="419.39" y2="2180.87" stroke="#ebebeb" stroke-width="2.8"/>
<line x1="557.94" y1="1819.66" x2="557.94" y2="2180.87" stroke="#ebebeb" stroke-width="2.8"/>
<line x1="696.08" y1="1819.66" x2="696.08" y2="2180.87" stroke="#ebebeb" stroke-width="2.8"/>
<line x1="834.63" y1="1819.66" x2="834.63" y2="2180.87" stroke="#ebebeb" stroke-width="2.8"/>
<line x1="393.79" y1="1881.01" x2="960.99" y2="1881.01" stroke="#ebebeb" stroke-width="2.6"/>
<line x1="393.79" y1="1958.21" x2="960.99" y2="1958.21" stroke="#ebebeb" stroke-width="2.6"/>
<line x1="393.79" y1="2035.41" x2="960.99" y2="2035.41" stroke="#ebebeb" stroke-width="2.6"/>
<line x1="393.79" y1="2112.61" x2="960.99" y2="2112.61" stroke="#ebebeb" stroke-width="2.6"/>
<text x="419.39" y="2197.52" font-size="13.5" fill="#4d4d4d" text-anchor="middle">0.0</text>
<text x="557.94" y="2197.52" font-size="13.5" fill="#4d4d4d" text-anchor="middle">2.5</text>
<text x="696.08" y="2197.52" font-size="13.5" fill="#4d4d4d" text-anchor="middle">5.0</text>
<text x="834.63" y="2197.52" font-size="13.5" fill="#4d4d4d" text-anchor="middle">7.5</text>
<text x="386.07" y="1885.81" font-size="13.5" fill="#4d4d4d" text-anchor="end">90</text>
<text x="386.07" y="1963.01" font-size="13.5" fill="#4d4d4d" text-anchor="end">80</text>
<text x="386.07" y="2040.21" font-size="13.5" fill="#4d4d4d" text-anchor="end">70</text>
<text x="386.07" y="2117.41" font-size="13.5" fill="#4d4d4d" text-anchor="end">60</text>
<g fill="none" stroke="#000" stroke-width="1.38"><circle cx="419.59" cy="1843.53" r="2.95"/><circle cx="419.59" cy="1848.4" r="2.95"/><circle cx="419.59" cy="1867.09" r="2.95"/><circle cx="419.59" cy="1869.94" r="2.95"/><circle cx="419.59" cy="1872.78" r="2.95"/><circle cx="419.59" cy="1878.06" r="2.95"/><circle cx="419.59" cy="1883.75" r="2.95"/><circle cx="419.59" cy="1898.38" r="2.95"/><circle cx="419.59" cy="1900" r="2.95"/><circle cx="419.59" cy="1912.6" r="2.95"/><circle cx="419.59" cy="1915.85" r="2.95"/><circle cx="419.59" cy="1935.76" r="2.95"/><circle cx="419.59" cy="1939.01" r="2.95"/><circle cx="419.59" cy="1941.85" r="2.95"/><circle cx="419.59" cy="1961.35" r="2.95"/><circle cx="560.98" cy="1839.06" r="2.95"/><circle cx="649.15" cy="1836.62" r="2.95"/><circle cx="588.61" cy="1856.53" r="2.95"/><circle cx="596.74" cy="1857.34" r="2.95"/><circle cx="625.99" cy="1851.25" r="2.95"/><circle cx="662.56" cy="1856.53" r="2.95"/><circle cx="665.4" cy="1863.84" r="2.95"/><circle cx="665.4" cy="1867.9" r="2.95"/><circle cx="599.58" cy="1885.38" r="2.95"/><circle cx="662.56" cy="1887.41" r="2.95"/><circle cx="824.27" cy="1865.87" r="2.95"/><circle cx="728.38" cy="1872.78" r="2.95"/><circle cx="811.27" cy="1886.19" r="2.95"/><circle cx="725.13" cy="1891.47" r="2.95"/><circle cx="716.19" cy="1902.03" r="2.95"/><circle cx="732.04" cy="1900.41" r="2.95"/><circle cx="738.13" cy="1906.1" r="2.95"/><circle cx="734.07" cy="1908.94" r="2.95"/><circle cx="749.51" cy="1909.75" r="2.95"/><circle cx="781.2" cy="1893.91" r="2.95"/><circle cx="782.01" cy="1903.66" r="2.95"/><circle cx="771.45" cy="1906.1" r="2.95"/><circle cx="804.77" cy="1899.19" r="2.95"/><circle cx="807.61" cy="1909.35" r="2.95"/><circle cx="809.64" cy="1917.47" r="2.95"/><circle cx="810.45" cy="1920.72" r="2.95"/><circle cx="820.61" cy="1921.54" r="2.95"/><circle cx="813.3" cy="1926.82" r="2.95"/><circle cx="793.79" cy="1917.47" r="2.95"/><circle cx="792.17" cy="1923.16" r="2.95"/><circle cx="662.15" cy="1925.19" r="2.95"/><circle cx="727.97" cy="1926.01" r="2.95"/><circle cx="744.63" cy="1920.72" r="2.95"/><circle cx="749.51" cy="1925.19" r="2.95"/><circle cx="623.55" cy="1939.01" r="2.95"/><circle cx="715.38" cy="1935.76" r="2.95"/><circle cx="775.1" cy="1926.01" r="2.95"/><circle cx="776.73" cy="1936.57" r="2.95"/><circle cx="782.01" cy="1943.07" r="2.95"/><circle cx="797.05" cy="1929.66" r="2.95"/><circle cx="801.51" cy="1927.63" r="2.95"/><circle cx="798.26" cy="1935.35" r="2.95"/><circle cx="801.11" cy="1940.63" r="2.95"/><circle cx="792.58" cy="1939.01" r="2.95"/><circle cx="821.42" cy="1935.35" r="2.95"/><circle cx="827.11" cy="1941.45" r="2.95"/><circle cx="823.05" cy="1946.32" r="2.95"/><circle cx="839.71" cy="1930.48" r="2.95"/><circle cx="853.12" cy="1929.66" r="2.95"/><circle cx="845.8" cy="1948.35" r="2.95"/><circle cx="797.05" cy="1949.57" r="2.95"/><circle cx="798.26" cy="1956.48" r="2.95"/><circle cx="788.11" cy="1957.7" r="2.95"/><circle cx="806.39" cy="1953.23" r="2.95"/><circle cx="807.2" cy="1966.64" r="2.95"/><circle cx="799.48" cy="1967.86" r="2.95"/><circle cx="813.7" cy="1955.26" r="2.95"/><circle cx="816.95" cy="1954.45" r="2.95"/><circle cx="818.99" cy="1952.42" r="2.95"/><circle cx="821.02" cy="1950.79" r="2.95"/><circle cx="830.77" cy="1956.48" r="2.95"/><circle cx="834.83" cy="1954.85" r="2.95"/><circle cx="837.68" cy="1951.2" r="2.95"/><circle cx="811.67" cy="1959.32" r="2.95"/><circle cx="817.77" cy="1965.82" r="2.95"/><circle cx="818.99" cy="1971.11" r="2.95"/><circle cx="819.39" cy="1975.58" r="2.95"/><circle cx="831.18" cy="1967.04" r="2.95"/><circle cx="837.27" cy="1967.86" r="2.95"/><circle cx="865.3" cy="1952.01" r="2.95"/><circle cx="865.71" cy="1950.38" r="2.95"/><circle cx="688.56" cy="1944.7" r="2.95"/><circle cx="691.81" cy="1944.7" r="2.95"/><circle cx="697.91" cy="1945.51" r="2.95"/><circle cx="766.17" cy="1971.51" r="2.95"/><circle cx="772.67" cy="1980.86" r="2.95"/><circle cx="860.43" cy="1963.39" r="2.95"/><circle cx="868.96" cy="1977.61" r="2.95"/><circle cx="875.46" cy="1977.61" r="2.95"/><circle cx="868.96" cy="1983.3" r="2.95"/><circle cx="879.93" cy="1982.89" r="2.95"/><circle cx="881.96" cy="1983.3" r="2.95"/><circle cx="892.12" cy="1975.17" r="2.95"/><circle cx="903.09" cy="1984.92" r="2.95"/><circle cx="857.18" cy="1986.14" r="2.95"/><circle cx="839.71" cy="1991.42" r="2.95"/><circle cx="873.43" cy="1993.45" r="2.95"/><circle cx="845.4" cy="1994.67" r="2.95"/><circle cx="849.46" cy="1995.48" r="2.95"/><circle cx="848.24" cy="1998.73" r="2.95"/><circle cx="847.43" cy="2001.99" r="2.95"/><circle cx="846.21" cy="2004.83" r="2.95"/><circle cx="870.59" cy="2005.64" r="2.95"/><circle cx="935.6" cy="2005.64" r="2.95"/><circle cx="805.58" cy="2001.17" r="2.95"/><circle cx="808.42" cy="2004.42" r="2.95"/><circle cx="793.39" cy="2008.08" r="2.95"/><circle cx="792.98" cy="2010.11" r="2.95"/><circle cx="817.36" cy="2010.92" r="2.95"/><circle cx="828.33" cy="2013.77" r="2.95"/><circle cx="825.89" cy="2021.49" r="2.95"/><circle cx="835.64" cy="2020.27" r="2.95"/><circle cx="839.71" cy="2023.93" r="2.95"/><circle cx="838.49" cy="2027.18" r="2.95"/><circle cx="855.15" cy="2018.64" r="2.95"/><circle cx="859.62" cy="2021.89" r="2.95"/><circle cx="865.3" cy="2018.64" r="2.95"/><circle cx="880.74" cy="2017.02" r="2.95"/><circle cx="890.5" cy="2026.77" r="2.95"/><circle cx="761.7" cy="2025.14" r="2.95"/><circle cx="806.8" cy="2027.99" r="2.95"/><circle cx="812.89" cy="2031.24" r="2.95"/><circle cx="819.39" cy="2032.86" r="2.95"/><circle cx="822.64" cy="2029.21" r="2.95"/><circle cx="694.25" cy="2031.24" r="2.95"/><circle cx="671.5" cy="2041.4" r="2.95"/><circle cx="850.27" cy="2037.33" r="2.95"/><circle cx="854.33" cy="2039.77" r="2.95"/><circle cx="856.77" cy="2040.18" r="2.95"/><circle cx="845.4" cy="2041.4" r="2.95"/><circle cx="864.9" cy="2047.09" r="2.95"/><circle cx="872.21" cy="2049.52" r="2.95"/><circle cx="829.96" cy="2051.96" r="2.95"/><circle cx="795.42" cy="2055.62" r="2.95"/><circle cx="929.09" cy="2052.77" r="2.95"/><circle cx="807.61" cy="2065.78" r="2.95"/><circle cx="812.89" cy="2064.96" r="2.95"/><circle cx="813.3" cy="2067.81" r="2.95"/><circle cx="822.64" cy="2063.74" r="2.95"/><circle cx="833.21" cy="2062.93" r="2.95"/><circle cx="818.58" cy="2072.28" r="2.95"/><circle cx="819.8" cy="2074.71" r="2.95"/><circle cx="831.18" cy="2076.75" r="2.95"/><circle cx="844.58" cy="2069.03" r="2.95"/><circle cx="842.15" cy="2072.68" r="2.95"/><circle cx="860.84" cy="2067.4" r="2.95"/><circle cx="872.21" cy="2071.87" r="2.95"/><circle cx="876.68" cy="2069.03" r="2.95"/><circle cx="845.4" cy="2080.4" r="2.95"/><circle cx="858.4" cy="2085.28" r="2.95"/><circle cx="864.49" cy="2089.75" r="2.95"/><circle cx="869.37" cy="2089.75" r="2.95"/><circle cx="873.02" cy="2102.75" r="2.95"/><circle cx="888.87" cy="2122.25" r="2.95"/><circle cx="839.3" cy="2127.13" r="2.95"/><circle cx="839.3" cy="2128.35" r="2.95"/><circle cx="878.31" cy="2164.51" r="2.95"/></g>
<text x="430.76" y="2142.77" font-size="31.7" fill="#ec4136" text-anchor="start">r = -0.605</text>
<text x="704.82" y="2224.75" font-size="20.1" fill="#000" text-anchor="middle">glog transformed Isovalerate</text>
<text x="0" y="0" font-size="20" fill="#000" text-anchor="middle" transform="translate(359.25 1999.25) rotate(-90)">Fecal H2O %</text>
<line x1="1156.64" y1="1820.31" x2="1156.64" y2="2180.82" stroke="#ebebeb" stroke-width="1.5"/>
<line x1="1295.18" y1="1820.31" x2="1295.18" y2="2180.82" stroke="#ebebeb" stroke-width="1.5"/>
<line x1="1433.33" y1="1820.31" x2="1433.33" y2="2180.82" stroke="#ebebeb" stroke-width="1.5"/>
<line x1="1571.87" y1="1820.31" x2="1571.87" y2="2180.82" stroke="#ebebeb" stroke-width="1.5"/>
<line x1="1061.79" y1="1842.35" x2="1628.94" y2="1842.35" stroke="#ebebeb" stroke-width="1.5"/>
<line x1="1061.79" y1="1919.49" x2="1628.94" y2="1919.49" stroke="#ebebeb" stroke-width="1.5"/>
<line x1="1061.79" y1="1996.63" x2="1628.94" y2="1996.63" stroke="#ebebeb" stroke-width="1.5"/>
<line x1="1061.79" y1="2073.77" x2="1628.94" y2="2073.77" stroke="#ebebeb" stroke-width="1.5"/>
<line x1="1061.79" y1="2150.91" x2="1628.94" y2="2150.91" stroke="#ebebeb" stroke-width="1.5"/>
<line x1="1087.37" y1="1820.31" x2="1087.37" y2="2180.82" stroke="#ebebeb" stroke-width="2.8"/>
<line x1="1225.91" y1="1820.31" x2="1225.91" y2="2180.82" stroke="#ebebeb" stroke-width="2.8"/>
<line x1="1364.45" y1="1820.31" x2="1364.45" y2="2180.82" stroke="#ebebeb" stroke-width="2.8"/>
<line x1="1502.6" y1="1820.31" x2="1502.6" y2="2180.82" stroke="#ebebeb" stroke-width="2.8"/>
<line x1="1061.79" y1="1880.92" x2="1628.94" y2="1880.92" stroke="#ebebeb" stroke-width="2.6"/>
<line x1="1061.79" y1="1958.06" x2="1628.94" y2="1958.06" stroke="#ebebeb" stroke-width="2.6"/>
<line x1="1061.79" y1="2035.59" x2="1628.94" y2="2035.59" stroke="#ebebeb" stroke-width="2.6"/>
<line x1="1061.79" y1="2112.73" x2="1628.94" y2="2112.73" stroke="#ebebeb" stroke-width="2.6"/>
<text x="1087.37" y="2197.35" font-size="13.5" fill="#4d4d4d" text-anchor="middle">0.0</text>
<text x="1225.91" y="2197.35" font-size="13.5" fill="#4d4d4d" text-anchor="middle">2.5</text>
<text x="1364.45" y="2197.35" font-size="13.5" fill="#4d4d4d" text-anchor="middle">5.0</text>
<text x="1502.6" y="2197.35" font-size="13.5" fill="#4d4d4d" text-anchor="middle">7.5</text>
<text x="1053.92" y="1885.72" font-size="13.5" fill="#4d4d4d" text-anchor="end">90</text>
<text x="1053.92" y="1962.86" font-size="13.5" fill="#4d4d4d" text-anchor="end">80</text>
<text x="1053.92" y="2040.39" font-size="13.5" fill="#4d4d4d" text-anchor="end">70</text>
<text x="1053.92" y="2117.53" font-size="13.5" fill="#4d4d4d" text-anchor="end">60</text>
<g fill="none" stroke="#000" stroke-width="1.38"><circle cx="1087.57" cy="1867.44" r="2.95"/><circle cx="1087.57" cy="1883.58" r="2.95"/><circle cx="1284.76" cy="1839.1" r="2.95"/><circle cx="1286.33" cy="1843.43" r="2.95"/><circle cx="1333.17" cy="1836.35" r="2.95"/><circle cx="1352.84" cy="1851.3" r="2.95"/><circle cx="1308.76" cy="1848.94" r="2.95"/><circle cx="1309.55" cy="1856.81" r="2.95"/><circle cx="1344.19" cy="1857.6" r="2.95"/><circle cx="1236.35" cy="1856.42" r="2.95"/><circle cx="1333.56" cy="1863.9" r="2.95"/><circle cx="1300.5" cy="1867.44" r="2.95"/><circle cx="1315.46" cy="1871.38" r="2.95"/><circle cx="1254.45" cy="1870.59" r="2.95"/><circle cx="1223.75" cy="1873.74" r="2.95"/><circle cx="1271.77" cy="1878.46" r="2.95"/><circle cx="1245.4" cy="1885.15" r="2.95"/><circle cx="1328.05" cy="1887.51" r="2.95"/><circle cx="1216.67" cy="1898.14" r="2.95"/><circle cx="1290.66" cy="1916.24" r="2.95"/><circle cx="1301.29" cy="1913.1" r="2.95"/><circle cx="1336.71" cy="1909.95" r="2.95"/><circle cx="1320.57" cy="1936.32" r="2.95"/><circle cx="1333.56" cy="1939.47" r="2.95"/><circle cx="1407.16" cy="1868.23" r="2.95"/><circle cx="1447.7" cy="1872.95" r="2.95"/><circle cx="1507.52" cy="1865.87" r="2.95"/><circle cx="1497.29" cy="1885.94" r="2.95"/><circle cx="1414.24" cy="1891.45" r="2.95"/><circle cx="1419.75" cy="1900.9" r="2.95"/><circle cx="1420.15" cy="1908.77" r="2.95"/><circle cx="1391.81" cy="1906.01" r="2.95"/><circle cx="1441.79" cy="1900.11" r="2.95"/><circle cx="1449.27" cy="1906.01" r="2.95"/><circle cx="1457.14" cy="1902.08" r="2.95"/><circle cx="1463.44" cy="1893.81" r="2.95"/><circle cx="1489.81" cy="1904.04" r="2.95"/><circle cx="1485.87" cy="1909.16" r="2.95"/><circle cx="1532.71" cy="1898.93" r="2.95"/><circle cx="1427.23" cy="1920.18" r="2.95"/><circle cx="1436.28" cy="1926.08" r="2.95"/><circle cx="1453.99" cy="1925.3" r="2.95"/><circle cx="1470.92" cy="1923.33" r="2.95"/><circle cx="1470.92" cy="1926.08" r="2.95"/><circle cx="1488.24" cy="1921.36" r="2.95"/><circle cx="1485.09" cy="1926.08" r="2.95"/><circle cx="1488.63" cy="1930.02" r="2.95"/><circle cx="1495.32" cy="1917.43" r="2.95"/><circle cx="1518.93" cy="1917.82" r="2.95"/><circle cx="1532.32" cy="1921.36" r="2.95"/><circle cx="1526.02" cy="1926.87" r="2.95"/><circle cx="1522.48" cy="1930.81" r="2.95"/><circle cx="1531.92" cy="1930.02" r="2.95"/><circle cx="1427.23" cy="1936.32" r="2.95"/><circle cx="1429.99" cy="1944.58" r="2.95"/><circle cx="1373.31" cy="1942.22" r="2.95"/><circle cx="1376.85" cy="1944.19" r="2.95"/><circle cx="1387.09" cy="1945.37" r="2.95"/><circle cx="1481.15" cy="1939.07" r="2.95"/><circle cx="1484.3" cy="1940.65" r="2.95"/><circle cx="1488.63" cy="1942.61" r="2.95"/><circle cx="1496.89" cy="1935.14" r="2.95"/><circle cx="1506.73" cy="1935.14" r="2.95"/><circle cx="1506.34" cy="1940.25" r="2.95"/><circle cx="1514.6" cy="1937.1" r="2.95"/><circle cx="1521.3" cy="1941.43" r="2.95"/><circle cx="1519.72" cy="1946.94" r="2.95"/><circle cx="1515" cy="1949.7" r="2.95"/><circle cx="1514.6" cy="1951.27" r="2.95"/><circle cx="1518.93" cy="1951.27" r="2.95"/><circle cx="1536.25" cy="1948.91" r="2.95"/><circle cx="1537.83" cy="1949.7" r="2.95"/><circle cx="1535.07" cy="1952.85" r="2.95"/><circle cx="1535.86" cy="1954.82" r="2.95"/><circle cx="1465.41" cy="1956.78" r="2.95"/><circle cx="1478.4" cy="1959.93" r="2.95"/><circle cx="1491.38" cy="1957.57" r="2.95"/><circle cx="1498.47" cy="1956" r="2.95"/><circle cx="1503.98" cy="1954.82" r="2.95"/><circle cx="1507.91" cy="1957.57" r="2.95"/><circle cx="1510.67" cy="1961.9" r="2.95"/><circle cx="1514.21" cy="1966.23" r="2.95"/><circle cx="1522.87" cy="1967.02" r="2.95"/><circle cx="1530.74" cy="1967.8" r="2.95"/><circle cx="1545.3" cy="1963.08" r="2.95"/><circle cx="1455.96" cy="1966.23" r="2.95"/><circle cx="1456.36" cy="1971.74" r="2.95"/><circle cx="1496.89" cy="1968.2" r="2.95"/><circle cx="1502.01" cy="1970.95" r="2.95"/><circle cx="1499.26" cy="1975.28" r="2.95"/><circle cx="1537.83" cy="1978.04" r="2.95"/><circle cx="1537.43" cy="1986.3" r="2.95"/><circle cx="1549.63" cy="1977.64" r="2.95"/><circle cx="1549.24" cy="1982.37" r="2.95"/><circle cx="1556.32" cy="1983.55" r="2.95"/><circle cx="1561.05" cy="1984.73" r="2.95"/><circle cx="1568.13" cy="1983.15" r="2.95"/><circle cx="1587.02" cy="1975.28" r="2.95"/><circle cx="1395.74" cy="1980.79" r="2.95"/><circle cx="1557.9" cy="1993.39" r="2.95"/><circle cx="1517.75" cy="1994.96" r="2.95"/><circle cx="1529.56" cy="1992.2" r="2.95"/><circle cx="1528.77" cy="1995.35" r="2.95"/><circle cx="1526.41" cy="1998.9" r="2.95"/><circle cx="1520.51" cy="2004.8" r="2.95"/><circle cx="1515.39" cy="2002.83" r="2.95"/><circle cx="1545.7" cy="2005.59" r="2.95"/><circle cx="1603.16" cy="2005.59" r="2.95"/><circle cx="1489.02" cy="2001.26" r="2.95"/><circle cx="1486.66" cy="2004.8" r="2.95"/><circle cx="1488.63" cy="2007.95" r="2.95"/><circle cx="1476.43" cy="2009.92" r="2.95"/><circle cx="1496.89" cy="2011.49" r="2.95"/><circle cx="1503.58" cy="2013.85" r="2.95"/><circle cx="1553.96" cy="2017.39" r="2.95"/><circle cx="1525.23" cy="2020.15" r="2.95"/><circle cx="1529.95" cy="2018.57" r="2.95"/><circle cx="1534.28" cy="2018.57" r="2.95"/><circle cx="1561.83" cy="2022.51" r="2.95"/><circle cx="1561.83" cy="2026.84" r="2.95"/><circle cx="1508.31" cy="2021.72" r="2.95"/><circle cx="1501.22" cy="2023.69" r="2.95"/><circle cx="1498.47" cy="2027.63" r="2.95"/><circle cx="1498.07" cy="2030.78" r="2.95"/><circle cx="1499.26" cy="2032.35" r="2.95"/><circle cx="1485.48" cy="2025.27" r="2.95"/><circle cx="1484.69" cy="2028.02" r="2.95"/><circle cx="1387.87" cy="2031.17" r="2.95"/><circle cx="1428.02" cy="2041.01" r="2.95"/><circle cx="1522.08" cy="2037.47" r="2.95"/><circle cx="1522.87" cy="2041.01" r="2.95"/><circle cx="1531.92" cy="2039.43" r="2.95"/><circle cx="1537.04" cy="2039.83" r="2.95"/><circle cx="1527.99" cy="2049.67" r="2.95"/><circle cx="1534.28" cy="2047.31" r="2.95"/><circle cx="1594.89" cy="2052.82" r="2.95"/><circle cx="1500.04" cy="2052.03" r="2.95"/><circle cx="1494.14" cy="2055.96" r="2.95"/><circle cx="1509.09" cy="2062.66" r="2.95"/><circle cx="1486.27" cy="2067.38" r="2.95"/><circle cx="1489.42" cy="2066.59" r="2.95"/><circle cx="1494.93" cy="2064.62" r="2.95"/><circle cx="1496.5" cy="2063.84" r="2.95"/><circle cx="1500.83" cy="2072.89" r="2.95"/><circle cx="1498.86" cy="2075.25" r="2.95"/><circle cx="1498.47" cy="2076.43" r="2.95"/><circle cx="1504.77" cy="2072.89" r="2.95"/><circle cx="1518.93" cy="2068.95" r="2.95"/><circle cx="1522.48" cy="2067.38" r="2.95"/><circle cx="1533.89" cy="2072.1" r="2.95"/><circle cx="1546.09" cy="2068.95" r="2.95"/><circle cx="1517.75" cy="2080.37" r="2.95"/><circle cx="1527.99" cy="2085.09" r="2.95"/><circle cx="1526.02" cy="2089.42" r="2.95"/><circle cx="1535.86" cy="2089.81" r="2.95"/><circle cx="1536.65" cy="2102.8" r="2.95"/><circle cx="1508.31" cy="2126.81" r="2.95"/><circle cx="1551.21" cy="2122.09" r="2.95"/><circle cx="1566.16" cy="2128.38" r="2.95"/><circle cx="1524.84" cy="2164.59" r="2.95"/></g>
<text x="1115.32" y="2141.96" font-size="31.7" fill="#ec4136" text-anchor="start">r = -0.613</text>
<text x="1372.72" y="2222.93" font-size="20.1" fill="#000" text-anchor="middle">glog transformed Isobutyrate</text>
<text x="0" y="0" font-size="20" fill="#000" text-anchor="middle" transform="translate(1026.76 1998.6) rotate(-90)">Fecal H2O %</text>
<text transform="translate(360.89 905.96) scale(1.0696 1)" font-size="55.3">c</text>
<text transform="translate(1032.19 906.05) scale(1.0202 1)" font-size="56.24">d</text>
<text transform="translate(334.95 1364.75) scale(1.0289 1)" font-size="56.03">e</text>
<text transform="translate(1019.8 1364.8) scale(1.1103 1)" font-size="57.08">f</text>
<text transform="translate(344.59 1855.96) scale(1.0140 1)" font-size="56.58">g</text>
<text transform="translate(1020.32 1842.4) scale(0.9862 1)" font-size="56.72">h</text>
</svg>
</body></html>
